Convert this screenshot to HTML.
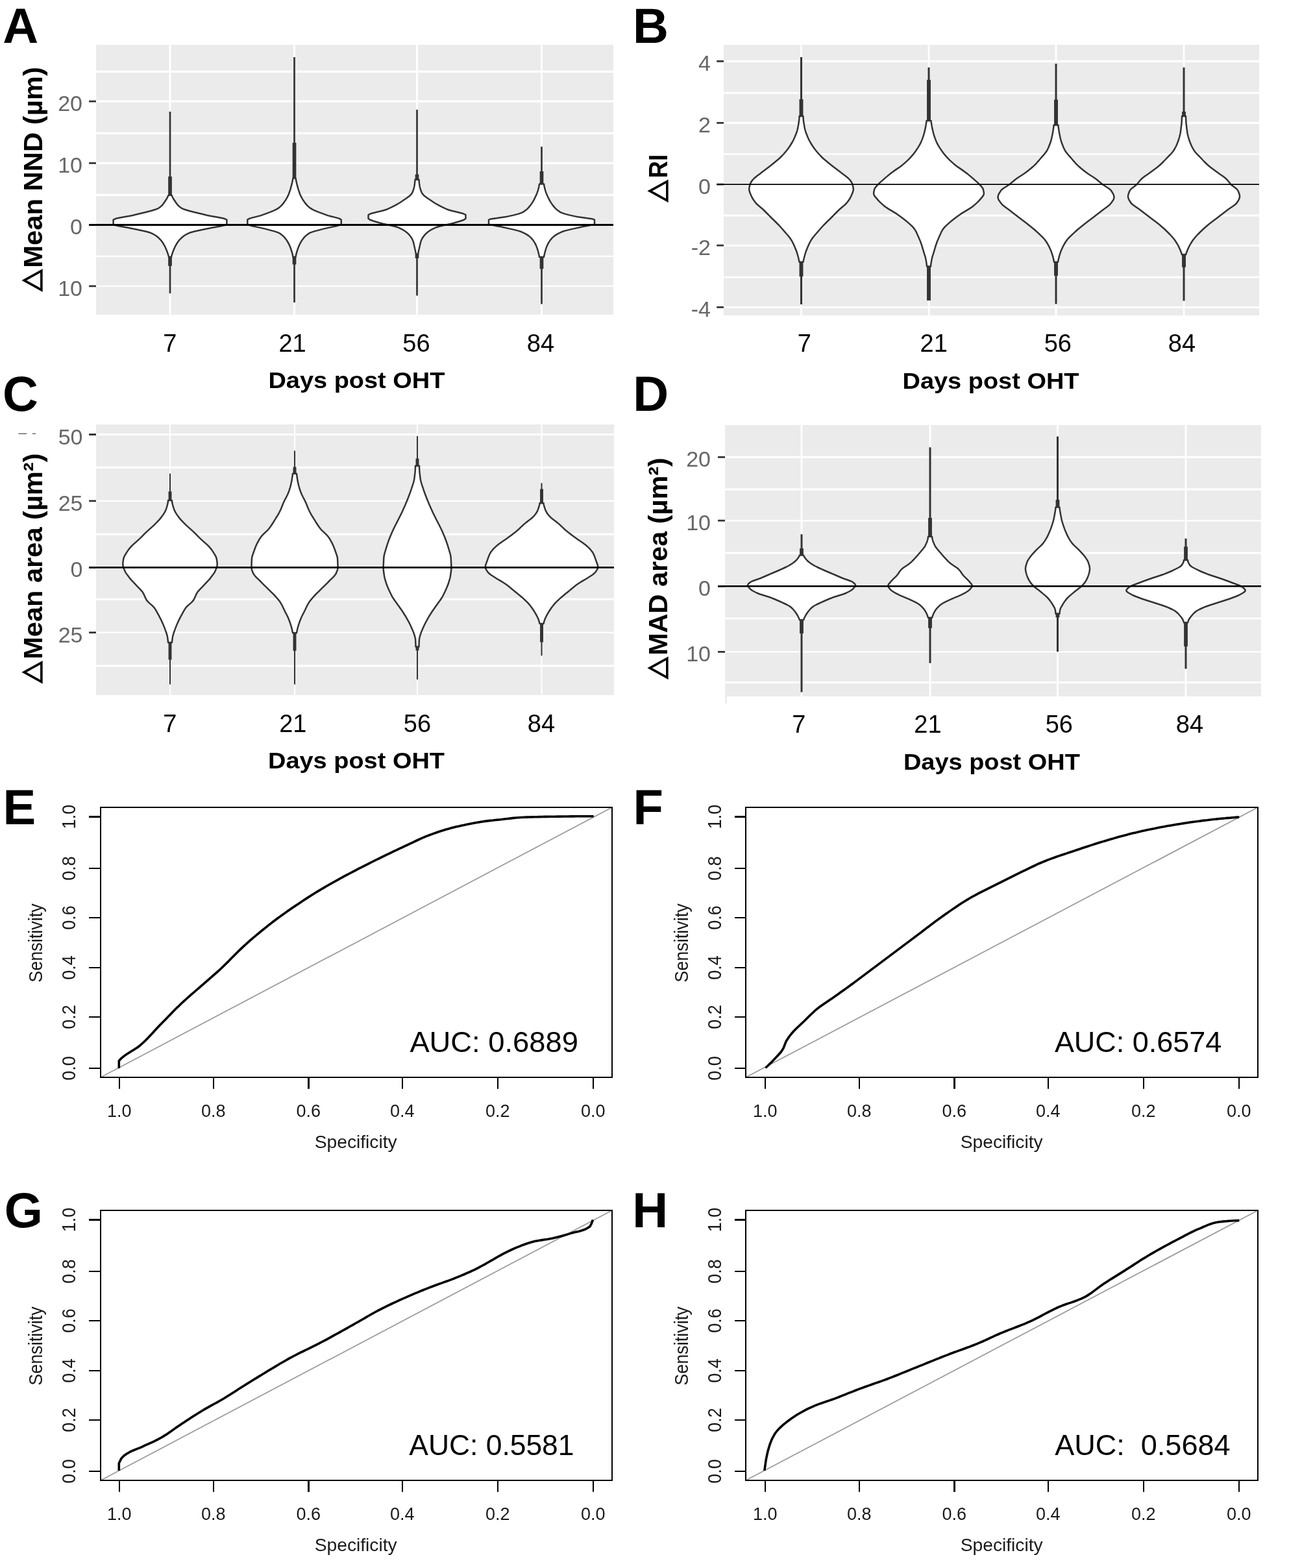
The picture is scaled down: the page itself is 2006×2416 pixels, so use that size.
<!DOCTYPE html>
<html lang="en"><head><meta charset="utf-8"><title>Figure</title>
<style>html,body{margin:0;padding:0;background:#fff}svg{display:block}text{font-family:"Liberation Sans","DejaVu Sans",sans-serif}</style></head><body>
<svg width="2006" height="2416" viewBox="0 0 2006 2416">
<rect width="2006" height="2416" fill="#fff"/>
<g id="panel-A">
<rect x="148" y="69" width="797" height="416" fill="#ebebeb"/>
<path d="M148 110.4H945" stroke="#fff" stroke-width="3.2" fill="none"/>
<path d="M148 156.2H945" stroke="#fff" stroke-width="3.2" fill="none"/>
<path d="M148 205.4H945" stroke="#fff" stroke-width="3.2" fill="none"/>
<path d="M148 251.4H945" stroke="#fff" stroke-width="3.2" fill="none"/>
<path d="M148 300.4H945" stroke="#fff" stroke-width="3.2" fill="none"/>
<path d="M148 346.4H945" stroke="#fff" stroke-width="3.0" fill="none"/>
<path d="M148 394.8H945" stroke="#fff" stroke-width="2.3" fill="none"/>
<path d="M148 440.8H945" stroke="#fff" stroke-width="2.3" fill="none"/>
<path d="M262 69V485M453.5 69V485M642.5 69V485M834.5 69V485" stroke="#fff" stroke-width="3.0" fill="none"/>
<path d="M137.1 156.2H148M137.1 251.4H148M137.1 346.4H148M137.1 440.8H148" stroke="#333" stroke-width="2.8" fill="none"/>
<text x="127" y="171.2" font-size="34" fill="#666" text-anchor="end">20</text>
<text x="127" y="266.4" font-size="34" fill="#666" text-anchor="end">10</text>
<text x="127" y="361.4" font-size="34" fill="#666" text-anchor="end">0</text>
<text x="127" y="455.8" font-size="34" fill="#666" text-anchor="end">10</text>
<path d="M262 172V300.8M262 396V452" stroke="#333" stroke-width="2.7" fill="none"/>
<path d="M262 272V301.8M262 395V409.7" stroke="#333" stroke-width="5.7" fill="none"/>
<path d="M259.5 300.8L258.6 302.8L257.6 304.8L256.5 306.8L255.2 308.8L253.9 310.8L252.5 312.8L251 314.8L249.2 316.8L247 318.8L245 320.3L244.2 320.8L239.6 322.8L233.1 324.8L225.4 326.8L217 328.8L208.6 330.8L205 331.7L199.9 332.8L188.4 334.8L178.4 336.8L174.6 338.6L174.6 338.8L174.6 340.8L174.6 342.8L174.6 344.8L174.6 345.5L176.6 346.8L185.3 348.8L196.8 350.8L205 352.4L206.7 352.8L216.1 354.8L225.3 356.8L232.2 358.8L233.4 359.3L236.3 360.8L239.6 362.8L242.4 364.8L244.7 366.8L246.7 368.8L248.3 370.7L248.4 370.8L249.9 372.8L251.3 374.8L252.5 376.8L253.6 378.8L254.6 380.8L255.2 382.2L255.5 382.8L256.3 384.8L257.1 386.8L257.9 388.8L258.6 390.8L259.2 392.8L259.7 394.8L260 396L264 396L264.3 394.8L264.8 392.8L265.4 390.8L266.1 388.8L266.9 386.8L267.7 384.8L268.5 382.8L268.8 382.2L269.4 380.8L270.4 378.8L271.5 376.8L272.7 374.8L274.1 372.8L275.6 370.8L275.7 370.7L277.3 368.8L279.3 366.8L281.6 364.8L284.4 362.8L287.7 360.8L290.6 359.3L291.8 358.8L298.7 356.8L307.9 354.8L317.3 352.8L319 352.4L327.2 350.8L338.7 348.8L347.4 346.8L349.4 345.5L349.4 344.8L349.4 342.8L349.4 340.8L349.4 338.8L349.4 338.6L345.6 336.8L335.6 334.8L324.1 332.8L319 331.7L315.4 330.8L307 328.8L298.6 326.8L290.9 324.8L284.4 322.8L279.8 320.8L279 320.3L277 318.8L274.8 316.8L273 314.8L271.5 312.8L270.1 310.8L268.8 308.8L267.5 306.8L266.4 304.8L265.4 302.8L264.5 300.8Z" fill="#fff" stroke="#333" stroke-width="2.5" stroke-linejoin="round"/>
<path d="M453.5 88V274.4M453.5 396V466" stroke="#333" stroke-width="2.7" fill="none"/>
<path d="M453.5 220V275.4M453.5 395V407.4" stroke="#333" stroke-width="5.7" fill="none"/>
<path d="M451.5 274.4L451.1 276.4L450.7 278.4L450.3 280.4L449.9 282.4L449.4 284.4L449 285.9L448.9 286.4L448.3 288.4L447.8 290.4L447.2 292.4L446.5 294.4L445.8 296.4L445.5 297.3L445.1 298.4L444.2 300.4L443.3 302.4L442.3 304.4L441.2 306.4L440 308.4L439.7 308.8L438.6 310.4L437.2 312.4L435.6 314.4L433.9 316.4L431.8 318.4L429.5 320.3L429.4 320.4L426.2 322.4L422.1 324.4L417.3 326.4L412 328.4L406.5 330.4L403 331.7L400.8 332.4L392.9 334.4L385.2 336.4L381.3 338.4L381.3 338.6L381.3 340.4L381.3 342.4L381.3 344.4L381.3 345.5L382.2 346.4L388.8 348.4L398.6 350.4L407.5 352.4L415.1 354.4L422.7 356.4L428.7 358.4L430.5 359.3L432.2 360.4L434.8 362.4L437 364.4L438.9 366.4L440.4 368.4L441.8 370.4L442 370.7L443.1 372.4L444.2 374.4L445.3 376.4L446.2 378.4L447 380.4L447.7 382.2L447.8 382.4L448.5 384.4L449.1 386.4L449.7 388.4L450.3 390.4L450.8 392.4L451.2 394.4L451.5 396L455.5 396L455.8 394.4L456.2 392.4L456.7 390.4L457.3 388.4L457.9 386.4L458.5 384.4L459.2 382.4L459.3 382.2L460 380.4L460.8 378.4L461.7 376.4L462.8 374.4L463.9 372.4L465 370.7L465.2 370.4L466.6 368.4L468.1 366.4L470 364.4L472.2 362.4L474.8 360.4L476.5 359.3L478.3 358.4L484.3 356.4L491.9 354.4L499.5 352.4L508.4 350.4L518.2 348.4L524.8 346.4L525.7 345.5L525.7 344.4L525.7 342.4L525.7 340.4L525.7 338.6L525.7 338.4L521.8 336.4L514.1 334.4L506.2 332.4L504 331.7L500.5 330.4L495 328.4L489.7 326.4L484.9 324.4L480.8 322.4L477.6 320.4L477.5 320.3L475.2 318.4L473.1 316.4L471.4 314.4L469.8 312.4L468.4 310.4L467.3 308.8L467 308.4L465.8 306.4L464.7 304.4L463.7 302.4L462.8 300.4L461.9 298.4L461.5 297.3L461.2 296.4L460.5 294.4L459.8 292.4L459.2 290.4L458.7 288.4L458.1 286.4L458 285.9L457.6 284.4L457.1 282.4L456.7 280.4L456.3 278.4L455.9 276.4L455.5 274.4Z" fill="#fff" stroke="#333" stroke-width="2.5" stroke-linejoin="round"/>
<path d="M642.5 169V276.7M642.5 391.4V455.6" stroke="#333" stroke-width="2.7" fill="none"/>
<path d="M642.5 268.7V277.7M642.5 390.4V398" stroke="#333" stroke-width="5.7" fill="none"/>
<path d="M639.5 276.7L639.4 278.7L639.2 280.7L639 282.7L638.7 284.7L638.5 285.9L638.4 286.7L638 288.7L637.5 290.7L636.9 292.7L636.1 294.7L635.3 296.7L635 297.3L634.1 298.7L632.3 300.7L629.9 302.7L627.2 304.7L624.3 306.7L621.3 308.7L621.2 308.8L618.4 310.7L615.3 312.7L612 314.7L608.4 316.7L604.5 318.7L600.3 320.7L596 322.6L595.8 322.7L589.1 324.7L580.6 326.7L572.8 328.7L568 330.7L567.5 331.5L567.5 332.7L567.5 334.7L567.5 336.5L567.5 336.7L570.3 338.7L576.1 340.7L582.9 342.7L584.5 343.2L590.1 344.7L599.3 346.7L607.9 348.7L612 350L613.7 350.7L618 352.7L621.8 354.7L624.9 356.7L627.4 358.7L628 359.3L629.4 360.7L631.2 362.7L632.8 364.7L634.1 366.7L635.2 368.7L636.1 370.7L636.8 372.7L637.3 374.7L637.8 376.7L638.2 378.7L638.7 380.7L639 382.2L639.1 382.7L639.6 384.7L640 386.7L640.4 388.7L640.9 390.7L641 391.4L644 391.4L644.1 390.7L644.6 388.7L645 386.7L645.4 384.7L645.9 382.7L646 382.2L646.3 380.7L646.8 378.7L647.2 376.7L647.7 374.7L648.2 372.7L648.9 370.7L649.8 368.7L650.9 366.7L652.2 364.7L653.8 362.7L655.6 360.7L657 359.3L657.6 358.7L660.1 356.7L663.2 354.7L667 352.7L671.3 350.7L673 350L677.1 348.7L685.7 346.7L694.9 344.7L700.5 343.2L702.1 342.7L708.9 340.7L714.7 338.7L717.5 336.7L717.5 336.5L717.5 334.7L717.5 332.7L717.5 331.5L717 330.7L712.2 328.7L704.4 326.7L695.9 324.7L689.2 322.7L689 322.6L684.7 320.7L680.5 318.7L676.6 316.7L673 314.7L669.7 312.7L666.6 310.7L663.8 308.8L663.7 308.7L660.7 306.7L657.8 304.7L655.1 302.7L652.7 300.7L650.9 298.7L650 297.3L649.7 296.7L648.9 294.7L648.1 292.7L647.5 290.7L647 288.7L646.6 286.7L646.5 285.9L646.3 284.7L646 282.7L645.8 280.7L645.6 278.7L645.5 276.7Z" fill="#fff" stroke="#333" stroke-width="2.5" stroke-linejoin="round"/>
<path d="M834.5 226V283.6M834.5 396V468.6" stroke="#333" stroke-width="2.7" fill="none"/>
<path d="M834.5 264V284.6M834.5 395V414.3" stroke="#333" stroke-width="5.7" fill="none"/>
<path d="M831 283.6L830.7 285.6L830.3 287.6L829.8 289.6L829.3 291.6L829 292.8L828.8 293.6L828.1 295.6L827.4 297.6L826.6 299.6L825.7 301.6L824.8 303.6L824.5 304.2L823.8 305.6L822.8 307.6L821.7 309.6L820.5 311.6L819.2 313.6L817.8 315.6L817.7 315.7L816.2 317.6L814.6 319.6L812.7 321.6L810.5 323.6L807.7 325.6L805.1 327.2L804.3 327.6L798.6 329.6L790.8 331.6L781.7 333.6L779.9 334L769.3 335.6L755.5 337.6L753 338.6L753 339.6L753 341.6L753 343.6L753 345L753.6 345.6L761.7 347.6L772.7 349.6L774.5 350L781.6 351.6L790.7 353.6L798.6 355.6L802.8 357L804.2 357.6L808.4 359.6L812 361.6L814.9 363.6L817.3 365.6L817.7 366L819.2 367.6L820.9 369.6L822.3 371.6L823.6 373.6L824.7 375.6L825.7 377.6L826.5 379.6L827.3 381.6L828 383.6L828.6 385.6L829.1 387.6L829.5 389L829.7 389.6L830.1 391.6L830.6 393.6L830.9 395.6L831 396L838 396L838.1 395.6L838.4 393.6L838.9 391.6L839.3 389.6L839.5 389L839.9 387.6L840.4 385.6L841 383.6L841.7 381.6L842.5 379.6L843.3 377.6L844.3 375.6L845.4 373.6L846.7 371.6L848.1 369.6L849.8 367.6L851.3 366L851.7 365.6L854.1 363.6L857 361.6L860.6 359.6L864.8 357.6L866.2 357L870.4 355.6L878.3 353.6L887.4 351.6L894.5 350L896.3 349.6L907.3 347.6L915.4 345.6L916 345L916 343.6L916 341.6L916 339.6L916 338.6L913.5 337.6L899.7 335.6L889.1 334L887.3 333.6L878.2 331.6L870.4 329.6L864.7 327.6L863.9 327.2L861.3 325.6L858.5 323.6L856.3 321.6L854.4 319.6L852.8 317.6L851.3 315.7L851.2 315.6L849.8 313.6L848.5 311.6L847.3 309.6L846.2 307.6L845.2 305.6L844.5 304.2L844.2 303.6L843.3 301.6L842.4 299.6L841.6 297.6L840.9 295.6L840.2 293.6L840 292.8L839.7 291.6L839.2 289.6L838.7 287.6L838.3 285.6L838 283.6Z" fill="#fff" stroke="#333" stroke-width="2.5" stroke-linejoin="round"/>
<path d="M137.1 346.5H945" stroke="#000" stroke-width="2.9" fill="none"/>
</g>
<g id="panel-B">
<rect x="1115" y="69" width="825" height="417" fill="#ebebeb"/>
<path d="M1115 94.4H1940" stroke="#fff" stroke-width="3.2" fill="none"/>
<path d="M1115 143.3H1940" stroke="#fff" stroke-width="3.1" fill="none"/>
<path d="M1115 189.4H1940" stroke="#fff" stroke-width="3.1" fill="none"/>
<path d="M1115 237.5H1940" stroke="#fff" stroke-width="2.3" fill="none"/>
<path d="M1115 284.2H1940" stroke="#fff" stroke-width="2.6" fill="none"/>
<path d="M1115 332.1H1940" stroke="#fff" stroke-width="3.0" fill="none"/>
<path d="M1115 378.2H1940" stroke="#fff" stroke-width="3.0" fill="none"/>
<path d="M1115 427.1H1940" stroke="#fff" stroke-width="2.6" fill="none"/>
<path d="M1115 473.4H1940" stroke="#fff" stroke-width="3.0" fill="none"/>
<path d="M1234.5 69V486M1431 69V486M1627 69V486M1824 69V486" stroke="#fff" stroke-width="2.8" fill="none"/>
<path d="M1104.2 94.4H1115M1104.2 189.4H1115M1104.2 284.2H1115M1104.2 378.2H1115M1104.2 473.4H1115" stroke="#333" stroke-width="2.8" fill="none"/>
<text x="1095" y="109.4" font-size="34" fill="#666" text-anchor="end">4</text>
<text x="1095" y="204.4" font-size="34" fill="#666" text-anchor="end">2</text>
<text x="1095" y="299.2" font-size="34" fill="#666" text-anchor="end">0</text>
<text x="1095" y="393.2" font-size="34" fill="#666" text-anchor="end">-2</text>
<text x="1095" y="488.4" font-size="34" fill="#666" text-anchor="end">-4</text>
<path d="M1234.5 88V179M1234.5 403.8V469" stroke="#333" stroke-width="3.0" fill="none"/>
<path d="M1234.5 153V180M1234.5 402.8V426" stroke="#333" stroke-width="5.9" fill="none"/>
<path d="M1231.5 179L1231.5 181L1231.3 183L1231.2 185L1230.9 187L1230.6 189L1230.3 191L1230 193L1229.6 195L1229.3 197L1229.2 197.3L1228.8 199L1228.3 201L1227.7 203L1227 205L1226.2 207L1225.4 209L1224.6 211L1223.7 213L1223.5 213.4L1222.8 215L1221.8 217L1220.7 219L1219.5 221L1218.3 223L1217 225L1215.6 227L1215.5 227.2L1214.2 229L1212.7 231L1211.1 233L1209.4 235L1207.7 237L1205.8 239L1204 240.9L1203.9 241L1201.9 243L1199.7 245L1197.3 247L1194.9 249L1192.5 251L1190 253L1187.9 254.7L1187.5 255L1185 257L1182.3 259L1179.7 261L1177 263L1174.4 265L1173 266.1L1171.9 267L1169.2 269L1166.5 271L1164 273L1161.7 275L1159.8 277L1159.3 277.6L1158.3 279L1157 281L1156 283L1155.5 284.5L1155.4 285L1154.8 287L1154.4 289L1154.2 291L1154.2 291.4L1154.3 293L1154.8 295L1155.5 297L1156.3 299L1157 300.6L1157.2 301L1158.1 303L1159.1 305L1160.3 307L1161.7 309L1163.1 311L1163.9 312L1164.7 313L1166.7 315L1168.9 317L1171.3 319L1173.7 321L1176 323L1176.5 323.5L1178 325L1180 327L1182 329L1184 331L1185.9 333L1187.9 335L1189.9 337L1192 339L1194.1 341L1196.1 343L1198.1 345L1199.5 346.4L1200.1 347L1201.9 349L1203.7 351L1205.5 353L1207.2 355L1208.9 357L1209.7 357.9L1210.6 359L1212.4 361L1214.1 363L1215.7 365L1217.3 367L1218.6 369L1218.9 369.4L1219.9 371L1221 373L1222 375L1222.9 377L1223.8 379L1224.6 380.8L1224.7 381L1225.5 383L1226.3 385L1227.1 387L1227.8 389L1228.4 391L1228.8 392.3L1229 393L1229.5 395L1230.1 397L1230.5 399L1231 401L1231.4 403L1231.5 403.8L1237.5 403.8L1237.6 403L1238 401L1238.5 399L1238.9 397L1239.5 395L1240 393L1240.2 392.3L1240.6 391L1241.2 389L1241.9 387L1242.7 385L1243.5 383L1244.3 381L1244.4 380.8L1245.2 379L1246.1 377L1247 375L1248 373L1249.1 371L1250.1 369.4L1250.4 369L1251.7 367L1253.3 365L1254.9 363L1256.6 361L1258.4 359L1259.3 357.9L1260.1 357L1261.8 355L1263.5 353L1265.3 351L1267.1 349L1268.9 347L1269.5 346.4L1270.9 345L1272.9 343L1274.9 341L1277 339L1279.1 337L1281.1 335L1283.1 333L1285 331L1287 329L1289 327L1291 325L1292.5 323.5L1293 323L1295.3 321L1297.7 319L1300.1 317L1302.3 315L1304.3 313L1305.1 312L1305.9 311L1307.3 309L1308.7 307L1309.9 305L1310.9 303L1311.8 301L1312 300.6L1312.7 299L1313.5 297L1314.2 295L1314.7 293L1314.8 291.4L1314.8 291L1314.6 289L1314.2 287L1313.6 285L1313.5 284.5L1313 283L1312 281L1310.7 279L1309.7 277.6L1309.2 277L1307.3 275L1305 273L1302.5 271L1299.8 269L1297.1 267L1296 266.1L1294.6 265L1292 263L1289.3 261L1286.7 259L1284 257L1281.5 255L1281.1 254.7L1279 253L1276.5 251L1274.1 249L1271.7 247L1269.3 245L1267.1 243L1265.1 241L1265 240.9L1263.2 239L1261.3 237L1259.6 235L1257.9 233L1256.3 231L1254.8 229L1253.5 227.2L1253.4 227L1252 225L1250.7 223L1249.5 221L1248.3 219L1247.2 217L1246.2 215L1245.5 213.4L1245.3 213L1244.4 211L1243.6 209L1242.8 207L1242 205L1241.3 203L1240.7 201L1240.2 199L1239.8 197.3L1239.7 197L1239.4 195L1239 193L1238.7 191L1238.4 189L1238.1 187L1237.8 185L1237.7 183L1237.5 181L1237.5 179Z" fill="#fff" stroke="#333" stroke-width="2.5" stroke-linejoin="round"/>
<path d="M1431 104V185.9M1431 410.6V463" stroke="#333" stroke-width="3.0" fill="none"/>
<path d="M1431 123V186.9M1431 409.6V463" stroke="#333" stroke-width="5.9" fill="none"/>
<path d="M1427.5 185.9L1427.3 187.9L1427 189.9L1426.7 191.9L1426.4 193.9L1426 195.9L1425.6 197.9L1425.1 199.9L1424.7 201.9L1424.2 203.9L1424.1 204.2L1423.7 205.9L1423.1 207.9L1422.5 209.9L1421.8 211.9L1421.1 213.9L1420.3 215.9L1419.5 217.9L1418.6 219.9L1418.4 220.3L1417.6 221.9L1416.5 223.9L1415.3 225.9L1414.1 227.9L1412.7 229.9L1411.5 231.7L1411.4 231.9L1409.9 233.9L1408.4 235.9L1406.9 237.9L1405.2 239.9L1403.5 241.9L1402.3 243.2L1401.6 243.9L1399.7 245.9L1397.6 247.9L1395.4 249.9L1393.1 251.9L1390.7 253.9L1389.7 254.7L1388.2 255.9L1385.4 257.9L1382.5 259.9L1379.6 261.9L1376.7 263.9L1374 265.9L1373.7 266.1L1371.4 267.9L1369 269.9L1366.6 271.9L1364.2 273.9L1361.9 275.9L1360 277.6L1359.7 277.9L1357.4 279.9L1355.2 281.9L1353.2 283.9L1352.6 284.5L1351.3 285.9L1349.5 287.9L1348 289.9L1347.3 291.4L1347.2 291.9L1346.7 293.9L1346.3 295.9L1346.1 297.9L1346.1 298.3L1346.4 299.9L1347.4 301.9L1349 303.9L1350.7 305.9L1352 307.4L1352.4 307.9L1354.2 309.9L1356.2 311.9L1358.4 313.9L1360.7 315.9L1363.2 317.9L1364.5 318.9L1365.9 319.9L1368.9 321.9L1372.2 323.9L1375.6 325.9L1378.9 327.9L1382.1 329.9L1382.8 330.4L1384.9 331.9L1387.7 333.9L1390.4 335.9L1393 337.9L1395.5 339.9L1397.7 341.8L1397.8 341.9L1400.1 343.9L1402.3 345.9L1404.5 347.9L1406.5 349.9L1408.2 351.9L1409.2 353.3L1409.6 353.9L1410.8 355.9L1411.9 357.9L1412.8 359.9L1413.7 361.9L1414.6 363.9L1415 364.8L1415.5 365.9L1416.3 367.9L1417.2 369.9L1418 371.9L1418.7 373.9L1419.4 375.9L1419.5 376.1L1420.1 377.9L1420.7 379.9L1421.3 381.9L1421.9 383.9L1422.5 385.9L1423 387.7L1423.1 387.9L1423.7 389.9L1424.3 391.9L1425 393.9L1425.6 395.9L1426.1 397.9L1426.4 399.2L1426.5 399.9L1426.9 401.9L1427.2 403.9L1427.5 405.9L1427.8 407.9L1428 409.9L1428 410.6L1434 410.6L1434 409.9L1434.2 407.9L1434.5 405.9L1434.8 403.9L1435.1 401.9L1435.5 399.9L1435.6 399.2L1435.9 397.9L1436.4 395.9L1437 393.9L1437.7 391.9L1438.3 389.9L1438.9 387.9L1439 387.7L1439.5 385.9L1440.1 383.9L1440.7 381.9L1441.3 379.9L1441.9 377.9L1442.5 376.1L1442.6 375.9L1443.3 373.9L1444 371.9L1444.8 369.9L1445.7 367.9L1446.5 365.9L1447 364.8L1447.4 363.9L1448.3 361.9L1449.2 359.9L1450.1 357.9L1451.2 355.9L1452.4 353.9L1452.8 353.3L1453.8 351.9L1455.5 349.9L1457.5 347.9L1459.7 345.9L1461.9 343.9L1464.2 341.9L1464.3 341.8L1466.5 339.9L1469 337.9L1471.6 335.9L1474.3 333.9L1477.1 331.9L1479.2 330.4L1479.9 329.9L1483.1 327.9L1486.4 325.9L1489.8 323.9L1493.1 321.9L1496.1 319.9L1497.5 318.9L1498.8 317.9L1501.3 315.9L1503.6 313.9L1505.8 311.9L1507.8 309.9L1509.6 307.9L1510 307.4L1511.3 305.9L1513 303.9L1514.6 301.9L1515.6 299.9L1515.9 298.3L1515.9 297.9L1515.7 295.9L1515.3 293.9L1514.8 291.9L1514.7 291.4L1514 289.9L1512.5 287.9L1510.7 285.9L1509.4 284.5L1508.8 283.9L1506.8 281.9L1504.6 279.9L1502.3 277.9L1502 277.6L1500.1 275.9L1497.8 273.9L1495.4 271.9L1493 269.9L1490.6 267.9L1488.3 266.1L1488 265.9L1485.3 263.9L1482.4 261.9L1479.5 259.9L1476.6 257.9L1473.8 255.9L1472.3 254.7L1471.3 253.9L1468.9 251.9L1466.6 249.9L1464.4 247.9L1462.3 245.9L1460.4 243.9L1459.7 243.2L1458.5 241.9L1456.8 239.9L1455.1 237.9L1453.6 235.9L1452.1 233.9L1450.6 231.9L1450.5 231.7L1449.3 229.9L1447.9 227.9L1446.7 225.9L1445.5 223.9L1444.4 221.9L1443.6 220.3L1443.4 219.9L1442.5 217.9L1441.7 215.9L1440.9 213.9L1440.2 211.9L1439.5 209.9L1438.9 207.9L1438.3 205.9L1437.9 204.2L1437.8 203.9L1437.3 201.9L1436.9 199.9L1436.4 197.9L1436 195.9L1435.6 193.9L1435.3 191.9L1435 189.9L1434.7 187.9L1434.5 185.9Z" fill="#fff" stroke="#333" stroke-width="2.5" stroke-linejoin="round"/>
<path d="M1627 98V192.8M1627 403.8V468.6" stroke="#333" stroke-width="3.0" fill="none"/>
<path d="M1627 153.4V193.8M1627 402.8V424.7" stroke="#333" stroke-width="5.9" fill="none"/>
<path d="M1623.5 192.8L1623.4 194.8L1623.2 196.8L1622.9 198.8L1622.6 200.8L1622.3 202.8L1621.9 204.8L1621.6 206.8L1621.1 208.8L1620.7 210.8L1620.2 212.8L1620.1 213.4L1619.8 214.8L1619.2 216.8L1618.6 218.8L1618 220.8L1617.2 222.8L1616.4 224.8L1615.6 226.8L1614.7 228.8L1613.7 230.8L1613.2 231.7L1612.6 232.8L1611.2 234.8L1609.6 236.8L1607.9 238.8L1606.1 240.8L1604.3 242.8L1604 243.2L1602.7 244.8L1601 246.8L1599.2 248.8L1597.5 250.8L1595.6 252.8L1593.7 254.7L1593.6 254.8L1591.5 256.8L1589.2 258.8L1586.8 260.8L1584.3 262.8L1581.7 264.8L1580 266.1L1579 266.8L1576.1 268.8L1573 270.8L1569.8 272.8L1566.9 274.8L1566.2 275.3L1564.2 276.8L1561.8 278.8L1559.4 280.8L1557 282.8L1554.8 284.5L1554.4 284.8L1551.4 286.8L1548.2 288.8L1545.2 290.8L1542.8 292.8L1542.1 293.7L1541.4 294.8L1540.1 296.8L1538.9 298.8L1538.1 300.8L1537.6 302.8L1537.5 304L1537.6 304.8L1538.1 306.8L1539.2 308.8L1540.6 310.8L1542.1 312.8L1543.3 314.3L1543.7 314.8L1545.8 316.8L1548.4 318.8L1551.1 320.8L1553.9 322.8L1554.8 323.5L1556.5 324.8L1559 326.8L1561.6 328.8L1564.2 330.8L1566.8 332.8L1569.4 334.8L1569.7 335L1572.1 336.8L1574.7 338.8L1577.4 340.8L1580 342.8L1582.6 344.8L1584.6 346.4L1585.1 346.8L1587.6 348.8L1590 350.8L1592.5 352.8L1594.8 354.8L1597.1 356.8L1598.3 357.9L1599.3 358.8L1601.5 360.8L1603.6 362.8L1605.7 364.8L1607.6 366.8L1609.3 368.8L1609.8 369.4L1610.8 370.8L1612.2 372.8L1613.5 374.8L1614.6 376.8L1615.7 378.8L1616.7 380.8L1617.6 382.8L1618.5 384.8L1619.4 386.8L1620.1 388.8L1620.8 390.8L1621.3 392.3L1621.4 392.8L1622 394.8L1622.5 396.8L1623 398.8L1623.5 400.8L1623.8 402.8L1624 403.8L1630 403.8L1630.2 402.8L1630.5 400.8L1631 398.8L1631.5 396.8L1632 394.8L1632.6 392.8L1632.7 392.3L1633.2 390.8L1633.9 388.8L1634.6 386.8L1635.5 384.8L1636.4 382.8L1637.3 380.8L1638.3 378.8L1639.4 376.8L1640.5 374.8L1641.8 372.8L1643.2 370.8L1644.2 369.4L1644.7 368.8L1646.4 366.8L1648.3 364.8L1650.4 362.8L1652.5 360.8L1654.7 358.8L1655.7 357.9L1656.9 356.8L1659.2 354.8L1661.5 352.8L1664 350.8L1666.4 348.8L1668.9 346.8L1669.4 346.4L1671.4 344.8L1674 342.8L1676.6 340.8L1679.3 338.8L1681.9 336.8L1684.3 335L1684.6 334.8L1687.2 332.8L1689.8 330.8L1692.4 328.8L1695 326.8L1697.5 324.8L1699.2 323.5L1700.1 322.8L1702.9 320.8L1705.6 318.8L1708.2 316.8L1710.3 314.8L1710.7 314.3L1711.9 312.8L1713.4 310.8L1714.8 308.8L1715.9 306.8L1716.4 304.8L1716.5 304L1716.4 302.8L1715.9 300.8L1715.1 298.8L1713.9 296.8L1712.6 294.8L1711.9 293.7L1711.2 292.8L1708.8 290.8L1705.8 288.8L1702.6 286.8L1699.6 284.8L1699.2 284.5L1697 282.8L1694.6 280.8L1692.2 278.8L1689.8 276.8L1687.8 275.3L1687.1 274.8L1684.2 272.8L1681 270.8L1677.9 268.8L1675 266.8L1674 266.1L1672.3 264.8L1669.7 262.8L1667.2 260.8L1664.8 258.8L1662.5 256.8L1660.4 254.8L1660.3 254.7L1658.4 252.8L1656.5 250.8L1654.8 248.8L1653 246.8L1651.3 244.8L1650 243.2L1649.7 242.8L1647.9 240.8L1646.1 238.8L1644.4 236.8L1642.8 234.8L1641.4 232.8L1640.8 231.7L1640.3 230.8L1639.3 228.8L1638.4 226.8L1637.6 224.8L1636.8 222.8L1636 220.8L1635.4 218.8L1634.8 216.8L1634.2 214.8L1633.9 213.4L1633.8 212.8L1633.3 210.8L1632.9 208.8L1632.4 206.8L1632.1 204.8L1631.7 202.8L1631.4 200.8L1631.1 198.8L1630.8 196.8L1630.6 194.8L1630.5 192.8Z" fill="#fff" stroke="#333" stroke-width="2.5" stroke-linejoin="round"/>
<path d="M1824 104V179M1824 392.3V463.4" stroke="#333" stroke-width="3.0" fill="none"/>
<path d="M1824 172V180M1824 391.3V411.8" stroke="#333" stroke-width="5.9" fill="none"/>
<path d="M1821 179L1821 181L1820.9 183L1820.8 185L1820.7 187L1820.5 189L1820.4 191L1820.2 193L1819.9 195L1819.7 197L1819.4 199L1819.2 201L1818.9 203L1818.7 204.2L1818.6 205L1818.2 207L1817.7 209L1817.2 211L1816.6 213L1816 215L1815.3 217L1814.6 219L1814.1 220.3L1813.8 221L1813 223L1812.1 225L1811.1 227L1810 229L1808.8 231L1808.4 231.7L1807.5 233L1805.9 235L1804.1 237L1802.2 239L1800.2 241L1798.3 243L1798.1 243.2L1796.4 245L1794.5 247L1792.6 249L1790.6 251L1788.5 253L1786.6 254.7L1786.3 255L1783.9 257L1781.3 259L1778.6 261L1775.9 263L1773.2 265L1771.7 266.1L1770.5 267L1767.6 269L1764.6 271L1761.9 273L1759.4 275L1759.1 275.3L1757.4 277L1755.7 279L1754.1 281L1752.5 283L1751.1 284.5L1750.6 285L1748.1 287L1745.4 289L1742.9 291L1741.1 293L1740.7 293.7L1740.1 295L1739.3 297L1738.6 299L1738.1 301L1738 302.8L1738 303L1738.3 305L1739.1 307L1740.1 309L1741.4 311L1742 312L1742.7 313L1744.8 315L1747.4 317L1750.3 319L1753.3 321L1756.1 323L1756.8 323.5L1758.7 325L1761.3 327L1763.9 329L1766.5 331L1769.1 333L1771.7 335L1774.3 337L1777 339L1779.7 341L1782.3 343L1784.9 345L1786.6 346.4L1787.3 347L1789.6 349L1791.9 351L1794.1 353L1796.2 355L1798.3 357L1799.2 357.9L1800.3 359L1802.3 361L1804.2 363L1806 365L1807.7 367L1809.3 369L1809.6 369.4L1810.7 371L1812 373L1813.3 375L1814.4 377L1815.5 379L1816.4 380.8L1816.5 381L1817.4 383L1818.3 385L1819.1 387L1819.9 389L1820.6 391L1821 392.3L1827 392.3L1827.4 391L1828.1 389L1828.9 387L1829.7 385L1830.6 383L1831.5 381L1831.6 380.8L1832.5 379L1833.6 377L1834.7 375L1836 373L1837.3 371L1838.4 369.4L1838.7 369L1840.3 367L1842 365L1843.8 363L1845.7 361L1847.7 359L1848.8 357.9L1849.7 357L1851.8 355L1853.9 353L1856.1 351L1858.4 349L1860.7 347L1861.4 346.4L1863.1 345L1865.7 343L1868.3 341L1871 339L1873.7 337L1876.3 335L1878.9 333L1881.5 331L1884.1 329L1886.7 327L1889.3 325L1891.2 323.5L1891.9 323L1894.7 321L1897.7 319L1900.6 317L1903.2 315L1905.3 313L1906 312L1906.6 311L1907.9 309L1908.9 307L1909.7 305L1910 303L1910 302.8L1909.9 301L1909.4 299L1908.7 297L1907.9 295L1907.3 293.7L1906.9 293L1905.1 291L1902.6 289L1899.9 287L1897.4 285L1896.9 284.5L1895.5 283L1893.9 281L1892.3 279L1890.6 277L1888.9 275.3L1888.6 275L1886.1 273L1883.4 271L1880.4 269L1877.5 267L1876.3 266.1L1874.8 265L1872.1 263L1869.4 261L1866.7 259L1864.1 257L1861.7 255L1861.4 254.7L1859.5 253L1857.4 251L1855.4 249L1853.5 247L1851.6 245L1849.9 243.2L1849.7 243L1847.8 241L1845.8 239L1843.9 237L1842.1 235L1840.5 233L1839.6 231.7L1839.2 231L1838 229L1836.9 227L1835.9 225L1835 223L1834.2 221L1833.9 220.3L1833.4 219L1832.7 217L1832 215L1831.4 213L1830.8 211L1830.3 209L1829.8 207L1829.4 205L1829.3 204.2L1829.1 203L1828.8 201L1828.6 199L1828.3 197L1828.1 195L1827.8 193L1827.6 191L1827.5 189L1827.3 187L1827.2 185L1827.1 183L1827 181L1827 179Z" fill="#fff" stroke="#333" stroke-width="2.5" stroke-linejoin="round"/>
<path d="M1104.2 284.2H1940" stroke="#000" stroke-width="1.7" fill="none"/>
</g>
<g id="panel-C">
<rect x="148" y="654" width="798" height="417" fill="#ebebeb"/>
<path d="M148 669.5H946" stroke="#fff" stroke-width="3.1" fill="none"/>
<path d="M148 720.3H946" stroke="#fff" stroke-width="3.1" fill="none"/>
<path d="M148 771.9H946" stroke="#fff" stroke-width="2.3" fill="none"/>
<path d="M148 823.3H946" stroke="#fff" stroke-width="2.9" fill="none"/>
<path d="M148 874.3H946" stroke="#fff" stroke-width="2.9" fill="none"/>
<path d="M148 923.3H946" stroke="#fff" stroke-width="2.9" fill="none"/>
<path d="M148 974.6H946" stroke="#fff" stroke-width="2.4" fill="none"/>
<path d="M148 1026H946" stroke="#fff" stroke-width="3.1" fill="none"/>
<path d="M262 654V1071M454 654V1071M643 654V1071M834.5 654V1071" stroke="#fff" stroke-width="2.0" fill="none"/>
<path d="M137.1 669.5H148M137.1 771.9H148M137.1 874.3H148M137.1 974.6H148" stroke="#333" stroke-width="2.8" fill="none"/>
<text x="127.5" y="684.5" font-size="34" fill="#666" text-anchor="end">50</text>
<text x="127.5" y="786.9" font-size="34" fill="#666" text-anchor="end">25</text>
<text x="127.5" y="889.3" font-size="34" fill="#666" text-anchor="end">0</text>
<text x="127.5" y="989.6" font-size="34" fill="#666" text-anchor="end">25</text>
<path d="M262 729.8V771.1M262 990V1054.4" stroke="#333" stroke-width="2.0" fill="none"/>
<path d="M262 757.3V772.1M262 989V1016.5" stroke="#333" stroke-width="4.9" fill="none"/>
<path d="M259 771.1L258.9 773.1L258.6 775.1L258.1 777.1L257.6 779.1L257 781.1L256.4 783.1L255.8 784.9L255.7 785.1L254.9 787.1L253.8 789.1L252.6 791.1L251.3 793.1L249.9 795.1L249 796.3L248.4 797.1L246.8 799.1L245.1 801.1L243.2 803.1L241.3 805.1L239.3 807.1L238.6 807.8L237.3 809.1L235.1 811.1L232.9 813.1L230.6 815.1L228.4 817.1L226.2 819.1L226 819.3L224.1 821.1L222.1 823.1L220.1 825.1L218.2 827.1L216.2 829.1L214.5 830.7L214.1 831.1L211.9 833.1L209.6 835.1L207.3 837.1L205.1 839.1L203 841.1L202 842.2L201.2 843.1L199.5 845.1L197.9 847.1L196.5 849.1L195.2 851.1L195 851.4L194 853.1L192.7 855.1L191.7 857.1L190.8 859.1L190.4 860.6L190.3 861.1L189.9 863.1L189.6 865.1L189.4 867.1L189.3 869.1L189.3 869.7L189.4 871.1L189.8 873.1L190.5 875.1L191.3 877.1L192 878.9L192.1 879.1L193 881.1L194.2 883.1L195.6 885.1L197.1 887.1L198.6 889.1L199.6 890.4L200.1 891.1L201.8 893.1L203.7 895.1L205.6 897.1L207.5 899.1L209.4 901.1L210 901.8L211.2 903.1L213.1 905.1L215.1 907.1L217 909.1L218.7 911.1L220.2 913.1L220.3 913.3L221.3 915.1L222.3 917.1L223.1 919.1L224 921.1L225 923.1L226 924.8L226.2 925.1L227.9 927.1L230 929.1L232.3 931.1L234.6 933.1L236.6 935.1L237.5 936.2L238.2 937.1L239.5 939.1L240.7 941.1L241.8 943.1L242.9 945.1L244 947.1L244.3 947.7L245.1 949.1L246.1 951.1L247.2 953.1L248.2 955.1L249.1 957.1L250.1 959.1L250.1 959.2L250.9 961.1L251.8 963.1L252.6 965.1L253.4 967.1L254.2 969.1L254.7 970.6L254.9 971.1L255.6 973.1L256.3 975.1L256.9 977.1L257.5 979.1L257.9 981.1L258.1 982.1L258.3 983.1L258.5 985.1L258.8 987.1L259 989.1L259 990L265 990L265 989.1L265.2 987.1L265.5 985.1L265.7 983.1L265.9 982.1L266.1 981.1L266.5 979.1L267.1 977.1L267.7 975.1L268.4 973.1L269.1 971.1L269.3 970.6L269.8 969.1L270.6 967.1L271.4 965.1L272.2 963.1L273.1 961.1L273.9 959.2L273.9 959.1L274.9 957.1L275.8 955.1L276.8 953.1L277.9 951.1L278.9 949.1L279.7 947.7L280 947.1L281.1 945.1L282.2 943.1L283.3 941.1L284.5 939.1L285.8 937.1L286.5 936.2L287.4 935.1L289.4 933.1L291.7 931.1L294 929.1L296.1 927.1L297.8 925.1L298 924.8L299 923.1L300 921.1L300.9 919.1L301.7 917.1L302.7 915.1L303.7 913.3L303.8 913.1L305.3 911.1L307 909.1L308.9 907.1L310.9 905.1L312.8 903.1L314 901.8L314.6 901.1L316.5 899.1L318.4 897.1L320.3 895.1L322.2 893.1L323.9 891.1L324.4 890.4L325.4 889.1L326.9 887.1L328.4 885.1L329.8 883.1L331 881.1L331.9 879.1L332 878.9L332.7 877.1L333.5 875.1L334.2 873.1L334.6 871.1L334.7 869.7L334.7 869.1L334.6 867.1L334.4 865.1L334.1 863.1L333.7 861.1L333.6 860.6L333.2 859.1L332.3 857.1L331.3 855.1L330 853.1L329 851.4L328.8 851.1L327.5 849.1L326.1 847.1L324.5 845.1L322.8 843.1L322 842.2L321 841.1L318.9 839.1L316.7 837.1L314.4 835.1L312.1 833.1L309.9 831.1L309.5 830.7L307.8 829.1L305.8 827.1L303.9 825.1L301.9 823.1L299.9 821.1L298 819.3L297.8 819.1L295.6 817.1L293.4 815.1L291.1 813.1L288.9 811.1L286.7 809.1L285.4 807.8L284.7 807.1L282.7 805.1L280.8 803.1L278.9 801.1L277.2 799.1L275.6 797.1L275 796.3L274.1 795.1L272.7 793.1L271.4 791.1L270.2 789.1L269.1 787.1L268.3 785.1L268.2 784.9L267.6 783.1L267 781.1L266.4 779.1L265.9 777.1L265.4 775.1L265.1 773.1L265 771.1Z" fill="#fff" stroke="#333" stroke-width="2.5" stroke-linejoin="round"/>
<path d="M454 694.6V729.8M454 975.2V1054.4" stroke="#333" stroke-width="2.0" fill="none"/>
<path d="M454 719.5V730.8M454 974.2V1002.8" stroke="#333" stroke-width="4.9" fill="none"/>
<path d="M451 729.8L450.8 731.8L450.5 733.8L450.2 735.8L449.9 737.8L449.6 739.8L449.2 741.8L448.8 743.8L448.3 745.8L448.3 745.9L447.9 747.8L447.3 749.8L446.8 751.8L446.1 753.8L445.5 755.8L444.8 757.8L444.1 759.6L444 759.8L443.2 761.8L442.2 763.8L441.2 765.8L440.1 767.8L439.1 769.8L438.1 771.8L437.3 773.4L437.1 773.8L436.3 775.8L435.4 777.8L434.7 779.8L433.9 781.8L433 783.8L432.2 785.8L431.5 787.2L431.2 787.8L430.2 789.8L429 791.8L427.9 793.8L426.7 795.8L425.4 797.8L424.2 799.8L423.5 800.9L422.9 801.8L421.7 803.8L420.5 805.8L419.2 807.8L417.9 809.8L416.5 811.8L415 813.8L414.3 814.7L413.4 815.8L411.4 817.8L409.2 819.8L407.1 821.8L405 823.8L403.2 825.8L403 826.1L401.8 827.8L400.4 829.8L399.1 831.8L398 833.8L396.9 835.8L396 837.6L395.9 837.8L395 839.8L394.1 841.8L393.3 843.8L392.6 845.8L391.8 847.8L391.4 849.1L391.2 849.8L390.4 851.8L389.7 853.8L389 855.8L388.4 857.8L388.1 859.8L388 860.6L387.9 861.8L387.8 863.8L387.7 865.8L387.6 867.8L387.6 869.8L387.5 871.8L387.5 873.8L387.5 874.3L387.6 875.8L388 877.8L388.7 879.8L389.5 881.8L390.2 883.5L390.3 883.8L391.6 885.8L393.3 887.8L395.2 889.8L397.3 891.8L399.4 893.8L400.6 895L401.4 895.8L403.3 897.8L405.3 899.8L407.3 901.8L409.4 903.8L411.4 905.8L412 906.4L413.4 907.8L415.5 909.8L417.5 911.8L419.6 913.8L421.6 915.8L423.4 917.8L423.5 917.9L425.2 919.8L426.9 921.8L428.6 923.8L430.2 925.8L431.7 927.8L432.7 929.4L432.9 929.8L434.1 931.8L435.1 933.8L436 935.8L437 937.8L437.9 939.8L438.4 940.8L438.9 941.8L439.9 943.8L441 945.8L442 947.8L443 949.8L443.9 951.8L444.1 952.3L444.7 953.8L445.5 955.8L446.3 957.8L447 959.8L447.7 961.8L448.3 963.8L448.9 965.8L449.4 967.8L449.9 969.8L450.3 971.8L450.7 973.8L451 975.2L457 975.2L457.3 973.8L457.7 971.8L458.1 969.8L458.6 967.8L459.1 965.8L459.7 963.8L460.3 961.8L461 959.8L461.7 957.8L462.5 955.8L463.3 953.8L463.9 952.3L464.1 951.8L465 949.8L466 947.8L467 945.8L468.1 943.8L469.1 941.8L469.6 940.8L470.1 939.8L471 937.8L472 935.8L472.9 933.8L473.9 931.8L475.1 929.8L475.3 929.4L476.3 927.8L477.8 925.8L479.4 923.8L481.1 921.8L482.8 919.8L484.5 917.9L484.6 917.8L486.4 915.8L488.4 913.8L490.5 911.8L492.5 909.8L494.6 907.8L496 906.4L496.6 905.8L498.6 903.8L500.7 901.8L502.7 899.8L504.7 897.8L506.6 895.8L507.4 895L508.6 893.8L510.7 891.8L512.8 889.8L514.7 887.8L516.4 885.8L517.7 883.8L517.8 883.5L518.5 881.8L519.3 879.8L520 877.8L520.4 875.8L520.5 874.3L520.5 873.8L520.5 871.8L520.4 869.8L520.4 867.8L520.3 865.8L520.2 863.8L520.1 861.8L520 860.6L519.9 859.8L519.6 857.8L519 855.8L518.3 853.8L517.6 851.8L516.8 849.8L516.6 849.1L516.2 847.8L515.4 845.8L514.7 843.8L513.9 841.8L513 839.8L512.1 837.8L512 837.6L511.1 835.8L510 833.8L508.9 831.8L507.6 829.8L506.2 827.8L505 826.1L504.8 825.8L503 823.8L500.9 821.8L498.8 819.8L496.6 817.8L494.6 815.8L493.7 814.7L493 813.8L491.5 811.8L490.1 809.8L488.8 807.8L487.5 805.8L486.3 803.8L485.1 801.8L484.5 800.9L483.8 799.8L482.6 797.8L481.3 795.8L480.1 793.8L479 791.8L477.8 789.8L476.8 787.8L476.5 787.2L475.8 785.8L475 783.8L474.1 781.8L473.3 779.8L472.6 777.8L471.7 775.8L470.9 773.8L470.7 773.4L469.9 771.8L468.9 769.8L467.9 767.8L466.8 765.8L465.8 763.8L464.8 761.8L464 759.8L463.9 759.6L463.2 757.8L462.5 755.8L461.9 753.8L461.2 751.8L460.7 749.8L460.1 747.8L459.7 745.9L459.7 745.8L459.2 743.8L458.8 741.8L458.4 739.8L458.1 737.8L457.8 735.8L457.5 733.8L457.2 731.8L457 729.8Z" fill="#fff" stroke="#333" stroke-width="2.5" stroke-linejoin="round"/>
<path d="M643 672V717.8M643 996.5V1047" stroke="#333" stroke-width="2.0" fill="none"/>
<path d="M643 706.4V718.8M643 995.5V1002.2" stroke="#333" stroke-width="4.9" fill="none"/>
<path d="M640 717.8L640 719.8L639.9 721.8L639.8 723.8L639.7 725.8L639.5 727.8L639.3 729.8L639.1 731.8L638.8 733.8L638.6 735.8L638.4 737.3L638.3 737.8L638 739.8L637.5 741.8L637 743.8L636.3 745.8L635.7 747.8L635 749.8L634.3 751.8L633.8 753.4L633.7 753.8L633 755.8L632.3 757.8L631.6 759.8L630.9 761.8L630.1 763.8L629.3 765.8L628.6 767.8L627.8 769.8L627 771.7L627 771.8L626.1 773.8L625.3 775.8L624.5 777.8L623.6 779.8L622.7 781.8L621.8 783.8L620.9 785.8L620 787.8L619.1 789.8L618.1 791.8L617.1 793.8L616.1 795.8L615.1 797.8L614.1 799.8L613.1 801.8L612 803.8L612 803.9L611 805.8L610 807.8L609 809.8L608 811.8L607 813.8L606 815.8L605.2 817.6L605.1 817.8L604.2 819.8L603.3 821.8L602.5 823.8L601.6 825.8L600.8 827.8L600 829.8L599.4 831.4L599.3 831.8L598.5 833.8L597.8 835.8L597.1 837.8L596.4 839.8L595.8 841.8L595.2 843.8L594.8 845.1L594.6 845.8L594 847.8L593.4 849.8L592.8 851.8L592.3 853.8L591.8 855.8L591.5 857.8L591.4 858.9L591.3 859.8L591.2 861.8L591.1 863.8L591 865.8L590.9 867.8L590.8 869.8L590.7 871.8L590.7 873.8L590.7 875L590.7 875.8L590.8 877.8L591 879.8L591.2 881.8L591.5 883.8L591.8 885.8L591.9 886.4L592.1 887.8L592.5 889.8L593 891.8L593.6 893.8L594.2 895.8L594.8 897.8L594.8 897.9L595.4 899.8L596.2 901.8L597 903.8L597.8 905.8L598.7 907.8L599.4 909.4L599.6 909.8L600.5 911.8L601.5 913.8L602.5 915.8L603.5 917.8L604.6 919.8L605.2 920.8L605.8 921.8L607.1 923.8L608.5 925.8L610 927.8L611.4 929.8L612.8 931.8L613.2 932.3L614.3 933.8L615.7 935.8L617.1 937.8L618.5 939.8L619.9 941.8L621.2 943.8L622.5 945.8L623.7 947.8L625 949.8L626.2 951.8L627.3 953.8L628.1 955.2L628.4 955.8L629.5 957.8L630.5 959.8L631.5 961.8L632.5 963.8L633.4 965.8L633.8 966.7L634.3 967.8L635.2 969.8L636 971.8L636.9 973.8L637.6 975.8L638.3 977.8L638.4 978.2L638.9 979.8L639.4 981.8L639.9 983.8L640 985L640.1 985.8L640.2 987.8L640.3 989.8L640.4 991.8L640.5 993.8L640.5 995.8L640.5 996.5L645.5 996.5L645.5 995.8L645.5 993.8L645.6 991.8L645.7 989.8L645.8 987.8L645.9 985.8L646 985L646.1 983.8L646.6 981.8L647.1 979.8L647.6 978.2L647.7 977.8L648.4 975.8L649.1 973.8L650 971.8L650.8 969.8L651.7 967.8L652.2 966.7L652.6 965.8L653.5 963.8L654.5 961.8L655.5 959.8L656.5 957.8L657.6 955.8L657.9 955.2L658.7 953.8L659.8 951.8L661 949.8L662.3 947.8L663.5 945.8L664.8 943.8L666.1 941.8L667.5 939.8L668.9 937.8L670.3 935.8L671.7 933.8L672.8 932.3L673.2 931.8L674.6 929.8L676 927.8L677.5 925.8L678.9 923.8L680.2 921.8L680.8 920.8L681.4 919.8L682.5 917.8L683.5 915.8L684.5 913.8L685.5 911.8L686.4 909.8L686.6 909.4L687.3 907.8L688.2 905.8L689 903.8L689.8 901.8L690.6 899.8L691.2 897.9L691.2 897.8L691.8 895.8L692.4 893.8L693 891.8L693.5 889.8L693.9 887.8L694.1 886.4L694.2 885.8L694.5 883.8L694.8 881.8L695 879.8L695.2 877.8L695.3 875.8L695.3 875L695.3 873.8L695.3 871.8L695.2 869.8L695.1 867.8L695 865.8L694.9 863.8L694.8 861.8L694.7 859.8L694.6 858.9L694.5 857.8L694.2 855.8L693.7 853.8L693.2 851.8L692.6 849.8L692 847.8L691.4 845.8L691.2 845.1L690.8 843.8L690.2 841.8L689.6 839.8L688.9 837.8L688.2 835.8L687.5 833.8L686.7 831.8L686.6 831.4L686 829.8L685.2 827.8L684.4 825.8L683.5 823.8L682.7 821.8L681.8 819.8L680.9 817.8L680.8 817.6L680 815.8L679 813.8L678 811.8L677 809.8L676 807.8L675 805.8L674 803.9L674 803.8L672.9 801.8L671.9 799.8L670.9 797.8L669.9 795.8L668.9 793.8L667.9 791.8L666.9 789.8L666 787.8L665.1 785.8L664.2 783.8L663.3 781.8L662.4 779.8L661.5 777.8L660.7 775.8L659.9 773.8L659 771.8L659 771.7L658.2 769.8L657.4 767.8L656.7 765.8L655.9 763.8L655.1 761.8L654.4 759.8L653.7 757.8L653 755.8L652.3 753.8L652.2 753.4L651.7 751.8L651 749.8L650.3 747.8L649.7 745.8L649 743.8L648.5 741.8L648 739.8L647.7 737.8L647.6 737.3L647.4 735.8L647.2 733.8L646.9 731.8L646.7 729.8L646.5 727.8L646.3 725.8L646.2 723.8L646.1 721.8L646 719.8L646 717.8Z" fill="#fff" stroke="#333" stroke-width="2.5" stroke-linejoin="round"/>
<path d="M834.5 744.2V775.2M834.5 961V1010.3" stroke="#333" stroke-width="2.0" fill="none"/>
<path d="M834.5 753.4V776.2M834.5 960V989.6" stroke="#333" stroke-width="4.9" fill="none"/>
<path d="M831.5 775.2L831.3 777.2L830.8 779.2L830.3 781.2L829.6 783.2L828.9 785.2L828.8 785.5L828.1 787.2L827 789.2L825.7 791.2L824.2 793.2L823 794.7L822.6 795.2L820.6 797.2L818.2 799.2L815.6 801.2L812.9 803.2L810.4 805.2L809.3 806.1L808.1 807.2L805.9 809.2L803.8 811.2L801.6 813.2L799.5 815.2L797.2 817.2L796.7 817.6L794.8 819.2L792.2 821.2L789.6 823.2L787 825.2L784.3 827.2L781.7 829.1L781.6 829.2L778.7 831.2L775.8 833.2L772.8 835.2L770 837.2L767.3 839.2L765.7 840.6L765 841.2L762.9 843.2L760.8 845.2L759 847.2L757.3 849.2L755.9 851.2L755.4 852L754.8 853.2L753.8 855.2L753 857.2L752.3 859.2L751.6 861.2L750.9 863.2L750.8 863.5L750.2 865.2L749.4 867.2L748.7 869.2L748.1 871.2L747.8 873.2L747.8 873.8L748 875.2L748.8 877.2L750 879.2L751.5 881.2L751.9 881.8L753.2 883.2L755.6 885.2L758.6 887.2L761.7 889.2L764.5 891L764.8 891.2L768 893.2L771.4 895.2L774.8 897.2L778 899.2L779.5 900.2L780.9 901.2L783.5 903.2L785.9 905.2L788.3 907.2L790.7 909.2L790.9 909.4L793.1 911.2L795.6 913.2L798.1 915.2L800.5 917.2L802.9 919.2L804.7 920.8L805.1 921.2L807.3 923.2L809.4 925.2L811.5 927.2L813.5 929.2L815.3 931.2L816.2 932.3L816.9 933.2L818.5 935.2L819.9 937.2L821.3 939.2L822.6 941.2L823.8 943.2L824.2 943.8L825 945.2L826.1 947.2L827.2 949.2L828.2 951.2L829.1 953.2L829.9 955.2L830.5 957.2L831.1 959.2L831.5 961L837.5 961L837.9 959.2L838.5 957.2L839.1 955.2L839.9 953.2L840.8 951.2L841.8 949.2L842.9 947.2L844 945.2L844.8 943.8L845.2 943.2L846.4 941.2L847.7 939.2L849.1 937.2L850.5 935.2L852.1 933.2L852.8 932.3L853.7 931.2L855.5 929.2L857.5 927.2L859.6 925.2L861.7 923.2L863.9 921.2L864.3 920.8L866.1 919.2L868.5 917.2L870.9 915.2L873.4 913.2L875.9 911.2L878.1 909.4L878.3 909.2L880.7 907.2L883.1 905.2L885.5 903.2L888.1 901.2L889.5 900.2L891 899.2L894.2 897.2L897.6 895.2L901 893.2L904.2 891.2L904.5 891L907.3 889.2L910.4 887.2L913.4 885.2L915.8 883.2L917.1 881.8L917.5 881.2L919 879.2L920.2 877.2L921 875.2L921.2 873.8L921.2 873.2L920.9 871.2L920.3 869.2L919.6 867.2L918.8 865.2L918.2 863.5L918.1 863.2L917.4 861.2L916.7 859.2L916 857.2L915.2 855.2L914.2 853.2L913.6 852L913.1 851.2L911.7 849.2L910 847.2L908.2 845.2L906.1 843.2L904 841.2L903.3 840.6L901.7 839.2L899 837.2L896.2 835.2L893.2 833.2L890.3 831.2L887.4 829.2L887.3 829.1L884.7 827.2L882 825.2L879.4 823.2L876.8 821.2L874.2 819.2L872.3 817.6L871.8 817.2L869.5 815.2L867.4 813.2L865.2 811.2L863.1 809.2L860.9 807.2L859.7 806.1L858.6 805.2L856.1 803.2L853.4 801.2L850.8 799.2L848.4 797.2L846.4 795.2L846 794.7L844.8 793.2L843.3 791.2L842 789.2L840.9 787.2L840.2 785.5L840.1 785.2L839.4 783.2L838.7 781.2L838.2 779.2L837.7 777.2L837.5 775.2Z" fill="#fff" stroke="#333" stroke-width="2.5" stroke-linejoin="round"/>
<path d="M137.1 874.4H946" stroke="#000" stroke-width="2.9" fill="none"/>
</g>
<g id="panel-D">
<rect x="1117" y="655" width="826" height="418" fill="#ebebeb"/>
<path d="M1117 704.3H1943" stroke="#fff" stroke-width="3.2" fill="none"/>
<path d="M1117 754.1H1943" stroke="#fff" stroke-width="3.0" fill="none"/>
<path d="M1117 802.2H1943" stroke="#fff" stroke-width="2.6" fill="none"/>
<path d="M1117 852H1943" stroke="#fff" stroke-width="3.2" fill="none"/>
<path d="M1117 903.3H1943" stroke="#fff" stroke-width="3.0" fill="none"/>
<path d="M1117 953.1H1943" stroke="#fff" stroke-width="3.0" fill="none"/>
<path d="M1117 1004.3H1943" stroke="#fff" stroke-width="2.3" fill="none"/>
<path d="M1117 1051.5H1943" stroke="#fff" stroke-width="3.2" fill="none"/>
<path d="M1235 655V1073M1433 655V1073M1629.5 655V1073M1827 655V1073" stroke="#fff" stroke-width="2.8" fill="none"/>
<path d="M1106 704.3H1117M1106 802.2H1117M1106 903.3H1117M1106 1004.3H1117" stroke="#333" stroke-width="2.8" fill="none"/>
<text x="1095" y="719.3" font-size="34" fill="#666" text-anchor="end">20</text>
<text x="1095" y="817.2" font-size="34" fill="#666" text-anchor="end">10</text>
<text x="1095" y="918.3" font-size="34" fill="#666" text-anchor="end">0</text>
<text x="1095" y="1019.3" font-size="34" fill="#666" text-anchor="end">10</text>
<path d="M1235 823.3V855.5M1235 955.2V1066.5" stroke="#333" stroke-width="3.0" fill="none"/>
<path d="M1235 845.1V856.5M1235 954.2V975.9" stroke="#333" stroke-width="5.8" fill="none"/>
<path d="M1232 855.5L1231.1 857.5L1229.8 859.5L1228.3 861.5L1226.5 863.5L1224.4 865.5L1221.7 867.5L1218.7 869.5L1217.3 870.4L1215.4 871.5L1211.5 873.5L1207.3 875.5L1203.6 877.2L1202.9 877.5L1198.4 879.5L1193.7 881.5L1188.9 883.5L1187.5 884.1L1184.3 885.5L1179.7 887.5L1175.1 889.5L1171.5 891L1170.2 891.5L1164.4 893.5L1158.9 895.5L1156.6 896.7L1155.5 897.5L1153 899.5L1152 901.3L1152 901.5L1152.7 903.5L1154.1 905.5L1155.4 907L1155.9 907.5L1158.4 909.5L1161.9 911.5L1165.9 913.5L1167 914L1170.8 915.5L1177.2 917.5L1183.7 919.5L1187.5 920.8L1189.3 921.5L1194.2 923.5L1198.8 925.5L1203.2 927.5L1203.6 927.7L1207.6 929.5L1211.9 931.5L1215.6 933.5L1217.3 934.6L1218.4 935.5L1220.7 937.5L1222.5 939.5L1224.2 941.5L1225.7 943.5L1227.1 945.5L1228.3 947.5L1228.8 948.3L1229.4 949.5L1230.4 951.5L1231.3 953.5L1232 955.2L1238 955.2L1238.7 953.5L1239.6 951.5L1240.6 949.5L1241.2 948.3L1241.7 947.5L1242.9 945.5L1244.3 943.5L1245.8 941.5L1247.5 939.5L1249.3 937.5L1251.6 935.5L1252.7 934.6L1254.4 933.5L1258.1 931.5L1262.4 929.5L1266.4 927.7L1266.8 927.5L1271.2 925.5L1275.8 923.5L1280.7 921.5L1282.5 920.8L1286.3 919.5L1292.8 917.5L1299.2 915.5L1303 914L1304.1 913.5L1308.1 911.5L1311.6 909.5L1314.1 907.5L1314.6 907L1315.9 905.5L1317.3 903.5L1318 901.5L1318 901.3L1317 899.5L1314.5 897.5L1313.4 896.7L1311.1 895.5L1305.6 893.5L1299.8 891.5L1298.5 891L1294.9 889.5L1290.3 887.5L1285.7 885.5L1282.5 884.1L1281.1 883.5L1276.3 881.5L1271.6 879.5L1267.1 877.5L1266.4 877.2L1262.7 875.5L1258.5 873.5L1254.6 871.5L1252.7 870.4L1251.3 869.5L1248.3 867.5L1245.6 865.5L1243.5 863.5L1241.7 861.5L1240.2 859.5L1238.9 857.5L1238 855.5Z" fill="#fff" stroke="#333" stroke-width="2.5" stroke-linejoin="round"/>
<path d="M1433 689.2V826.8M1433 951.8V1021.7" stroke="#333" stroke-width="3.0" fill="none"/>
<path d="M1433 798.1V827.8M1433 950.8V967.8" stroke="#333" stroke-width="5.8" fill="none"/>
<path d="M1430 826.8L1429.8 828.8L1429.4 830.8L1428.9 832.8L1428.2 834.8L1427.4 836.8L1426.5 838.8L1425.7 840.6L1425.6 840.8L1424.4 842.8L1422.9 844.8L1421.3 846.8L1419.5 848.8L1418.8 849.7L1417.9 850.8L1416.2 852.8L1414.5 854.8L1412.7 856.8L1410.9 858.8L1410.8 858.9L1409 860.8L1407.1 862.8L1405.2 864.8L1403.1 866.8L1401.6 868.1L1400.7 868.8L1397.9 870.8L1394.9 872.8L1391.9 874.8L1389.4 876.8L1389 877.2L1387.6 878.8L1386 880.8L1384.7 882.8L1383.3 884.8L1382 886.4L1381.7 886.8L1379.7 888.8L1377.6 890.8L1375.6 892.8L1373.7 894.8L1373 895.6L1372 896.8L1370.2 898.8L1368.8 900.8L1368.3 902.5L1368.3 902.8L1369 904.8L1370.5 906.8L1372.4 908.8L1373 909.4L1374.7 910.8L1377.9 912.8L1381.7 914.8L1384.4 916.2L1385.6 916.8L1390.2 918.8L1395.1 920.8L1399.7 922.8L1400.4 923.1L1404.1 924.8L1408.4 926.8L1412.3 928.8L1414.2 930L1415.3 930.8L1418 932.8L1420.2 934.8L1422.1 936.8L1422.2 936.9L1423.7 938.8L1425.1 940.8L1426.3 942.8L1426.8 943.8L1427.3 944.8L1428.2 946.8L1429 948.8L1429.7 950.8L1430 951.8L1436 951.8L1436.3 950.8L1437 948.8L1437.8 946.8L1438.7 944.8L1439.2 943.8L1439.7 942.8L1440.9 940.8L1442.3 938.8L1443.8 936.9L1443.9 936.8L1445.8 934.8L1448 932.8L1450.7 930.8L1451.8 930L1453.7 928.8L1457.6 926.8L1461.9 924.8L1465.6 923.1L1466.3 922.8L1470.9 920.8L1475.8 918.8L1480.4 916.8L1481.6 916.2L1484.3 914.8L1488.1 912.8L1491.3 910.8L1493 909.4L1493.6 908.8L1495.5 906.8L1497 904.8L1497.7 902.8L1497.7 902.5L1497.2 900.8L1495.8 898.8L1494 896.8L1493 895.6L1492.3 894.8L1490.4 892.8L1488.4 890.8L1486.3 888.8L1484.3 886.8L1484 886.4L1482.7 884.8L1481.3 882.8L1480 880.8L1478.4 878.8L1477 877.2L1476.6 876.8L1474.1 874.8L1471.1 872.8L1468.1 870.8L1465.3 868.8L1464.4 868.1L1462.9 866.8L1460.8 864.8L1458.9 862.8L1457 860.8L1455.2 858.9L1455.1 858.8L1453.3 856.8L1451.5 854.8L1449.8 852.8L1448.1 850.8L1447.2 849.7L1446.5 848.8L1444.7 846.8L1443.1 844.8L1441.6 842.8L1440.4 840.8L1440.3 840.6L1439.5 838.8L1438.6 836.8L1437.8 834.8L1437.1 832.8L1436.6 830.8L1436.2 828.8L1436 826.8Z" fill="#fff" stroke="#333" stroke-width="2.5" stroke-linejoin="round"/>
<path d="M1629.5 672.6V781.6M1629.5 945.6V1004" stroke="#333" stroke-width="3.0" fill="none"/>
<path d="M1629.5 770.1V782.6M1629.5 944.6V951.3" stroke="#333" stroke-width="5.8" fill="none"/>
<path d="M1626.5 781.6L1626.3 783.6L1626.1 785.6L1625.8 787.6L1625.5 789.6L1625.1 791.6L1624.8 793.6L1624.4 795.6L1624 797.6L1623.6 799.6L1623.1 801.6L1622.5 803.6L1622 805.6L1621.3 807.6L1620.7 809.6L1620.1 811.4L1620 811.6L1619.3 813.6L1618.6 815.6L1617.8 817.6L1617 819.6L1616.1 821.6L1615.2 823.6L1614.5 825.1L1614.3 825.6L1613.2 827.6L1612.1 829.6L1610.9 831.6L1609.6 833.6L1608.2 835.6L1607.5 836.6L1606.7 837.6L1604.9 839.6L1602.8 841.6L1600.6 843.6L1598.5 845.6L1596.5 847.6L1596 848.1L1594.6 849.6L1592.7 851.6L1590.9 853.6L1589.2 855.6L1588 857.2L1587.7 857.6L1586.2 859.6L1584.8 861.6L1583.6 863.6L1582.6 865.6L1582.3 866.4L1581.9 867.6L1581.3 869.6L1580.7 871.6L1580.3 873.6L1580 875.6L1580 876.7L1580 877.6L1580.3 879.6L1580.7 881.6L1581.2 883.6L1581.8 885.6L1582.3 887.1L1582.5 887.6L1583.2 889.6L1584.2 891.6L1585.2 893.6L1586.4 895.6L1586.8 896.2L1587.7 897.6L1589.3 899.6L1591.1 901.6L1592.5 903.1L1593 903.6L1595.3 905.6L1597.9 907.6L1600.6 909.6L1603.1 911.6L1604 912.3L1605.6 913.6L1608 915.6L1610.4 917.6L1612.6 919.6L1614.5 921.5L1614.6 921.6L1616.3 923.6L1617.9 925.6L1619.3 927.6L1620.6 929.6L1621.2 930.6L1621.8 931.6L1623 933.6L1624.2 935.6L1625.1 937.6L1625.8 939.6L1625.8 939.8L1626.1 941.6L1626.4 943.6L1626.5 945.6L1632.5 945.6L1632.6 943.6L1632.9 941.6L1633.2 939.8L1633.2 939.6L1633.9 937.6L1634.8 935.6L1636 933.6L1637.2 931.6L1637.8 930.6L1638.4 929.6L1639.7 927.6L1641.1 925.6L1642.7 923.6L1644.4 921.6L1644.5 921.5L1646.4 919.6L1648.6 917.6L1651 915.6L1653.4 913.6L1655 912.3L1655.9 911.6L1658.4 909.6L1661.1 907.6L1663.7 905.6L1666 903.6L1666.5 903.1L1667.9 901.6L1669.7 899.6L1671.3 897.6L1672.2 896.2L1672.6 895.6L1673.8 893.6L1674.8 891.6L1675.8 889.6L1676.5 887.6L1676.7 887.1L1677.2 885.6L1677.8 883.6L1678.3 881.6L1678.7 879.6L1679 877.6L1679 876.7L1679 875.6L1678.7 873.6L1678.3 871.6L1677.7 869.6L1677.1 867.6L1676.7 866.4L1676.4 865.6L1675.4 863.6L1674.2 861.6L1672.8 859.6L1671.3 857.6L1671 857.2L1669.8 855.6L1668.1 853.6L1666.3 851.6L1664.4 849.6L1663 848.1L1662.5 847.6L1660.5 845.6L1658.4 843.6L1656.2 841.6L1654.1 839.6L1652.3 837.6L1651.5 836.6L1650.8 835.6L1649.4 833.6L1648.1 831.6L1646.9 829.6L1645.8 827.6L1644.7 825.6L1644.5 825.1L1643.8 823.6L1642.9 821.6L1642 819.6L1641.2 817.6L1640.4 815.6L1639.7 813.6L1639 811.6L1638.9 811.4L1638.3 809.6L1637.7 807.6L1637 805.6L1636.5 803.6L1635.9 801.6L1635.4 799.6L1635 797.6L1634.6 795.6L1634.2 793.6L1633.9 791.6L1633.5 789.6L1633.2 787.6L1632.9 785.6L1632.7 783.6L1632.5 781.6Z" fill="#fff" stroke="#333" stroke-width="2.5" stroke-linejoin="round"/>
<path d="M1827 829.7V863M1827 959.3V1030.4" stroke="#333" stroke-width="3.0" fill="none"/>
<path d="M1827 842.3V864M1827 958.3V996" stroke="#333" stroke-width="5.8" fill="none"/>
<path d="M1824 863L1823.7 865L1823 867L1821.9 869L1820.6 871L1818.4 873L1814.9 875L1810.9 877L1809.1 877.9L1806.9 879L1802.5 881L1797.6 883L1793 884.8L1792.5 885L1786.7 887L1780.5 889L1774.4 891L1772.4 891.7L1768.7 893L1763.2 895L1757.9 897L1754 898.5L1752.7 899L1747.3 901L1742.5 903L1740.3 904.3L1739.4 905L1737 907L1735.5 909L1735.3 910L1735.7 911L1738 913L1741.4 915L1742.6 915.7L1745.1 917L1749.8 919L1755.1 921L1756.4 921.5L1760.6 923L1766.7 925L1773 927L1777 928.3L1779.1 929L1785.5 931L1791.6 933L1797.1 935L1797.6 935.2L1801.8 937L1806.1 939L1809.8 941L1811.4 942.1L1812.5 943L1814.8 945L1816.6 947L1818.3 949L1819.9 951L1821.3 953L1822.5 955L1822.9 955.9L1823.3 957L1823.9 959L1824 959.3L1830 959.3L1830.1 959L1830.7 957L1831.1 955.9L1831.5 955L1832.7 953L1834.1 951L1835.7 949L1837.4 947L1839.2 945L1841.5 943L1842.6 942.1L1844.2 941L1847.9 939L1852.2 937L1856.4 935.2L1856.9 935L1862.4 933L1868.5 931L1874.9 929L1877 928.3L1881 927L1887.3 925L1893.4 923L1897.6 921.5L1898.9 921L1904.2 919L1908.9 917L1911.4 915.7L1912.6 915L1916 913L1918.3 911L1918.7 910L1918.5 909L1917 907L1914.6 905L1913.7 904.3L1911.5 903L1906.7 901L1901.3 899L1900 898.5L1896.1 897L1890.8 895L1885.3 893L1881.6 891.7L1879.6 891L1873.5 889L1867.3 887L1861.5 885L1861 884.8L1856.4 883L1851.5 881L1847.1 879L1844.9 877.9L1843.1 877L1839.1 875L1835.6 873L1833.4 871L1832.1 869L1831 867L1830.3 865L1830 863Z" fill="#fff" stroke="#333" stroke-width="2.5" stroke-linejoin="round"/>
<path d="M1106 903.3H1943" stroke="#000" stroke-width="2.6" fill="none"/>
</g>
<path d="M28.4 668.2H41.3M49.9 668.2H55" stroke="#222" stroke-width="1" fill="none"/>
<path d="M1118.4 1072.9V1083.5" stroke="#ebebeb" stroke-width="2.8" fill="none"/>
<text x="261.8" y="541.6" font-size="38" text-anchor="middle">7</text>
<text x="450.6" y="541.6" font-size="38" text-anchor="middle">21</text>
<text x="641.5" y="541.6" font-size="38" text-anchor="middle">56</text>
<text x="833" y="541.6" font-size="38" text-anchor="middle">84</text>
<text x="1239.4" y="541.6" font-size="38" text-anchor="middle">7</text>
<text x="1438.7" y="541.6" font-size="38" text-anchor="middle">21</text>
<text x="1629.8" y="541.6" font-size="38" text-anchor="middle">56</text>
<text x="1821" y="541.6" font-size="38" text-anchor="middle">84</text>
<text x="261.7" y="1127.5" font-size="38" text-anchor="middle">7</text>
<text x="451.3" y="1127.5" font-size="38" text-anchor="middle">21</text>
<text x="643" y="1127.5" font-size="38" text-anchor="middle">56</text>
<text x="833.9" y="1127.5" font-size="38" text-anchor="middle">84</text>
<text x="1230.8" y="1128.8" font-size="38" text-anchor="middle">7</text>
<text x="1429.5" y="1128.8" font-size="38" text-anchor="middle">21</text>
<text x="1631.8" y="1128.8" font-size="38" text-anchor="middle">56</text>
<text x="1832.9" y="1128.8" font-size="38" text-anchor="middle">84</text>
<text x="413.4" y="598.4" font-size="35" font-weight="bold" textLength="272" lengthAdjust="spacingAndGlyphs">Days post OHT</text>
<text x="1390.5" y="598.9" font-size="35" font-weight="bold" textLength="272" lengthAdjust="spacingAndGlyphs">Days post OHT</text>
<text x="413" y="1183.9" font-size="35" font-weight="bold" textLength="272" lengthAdjust="spacingAndGlyphs">Days post OHT</text>
<text x="1391.9" y="1186.1" font-size="35" font-weight="bold" textLength="272" lengthAdjust="spacingAndGlyphs">Days post OHT</text>
<text x="0" y="0" font-size="43.5" transform="translate(59.9 448.7) scale(0.9 1) rotate(-90)" stroke="#000" stroke-width="1.6" stroke-linejoin="miter">△</text>
<text x="0" y="0" font-size="40.5" font-weight="bold" textLength="309.6" lengthAdjust="spacingAndGlyphs" transform="translate(64.7 412.8) rotate(-90)">Mean NND (µm)</text>
<text x="0" y="0" font-size="43.5" transform="translate(1023.5 310.9) scale(0.9 1) rotate(-90)" stroke="#000" stroke-width="1.6" stroke-linejoin="miter">△</text>
<text x="0" y="0" font-size="40.5" font-weight="bold" textLength="36.8" lengthAdjust="spacingAndGlyphs" transform="translate(1028.3 274.6) rotate(-90)">RI</text>
<text x="0" y="0" font-size="43.5" transform="translate(59.9 1052.5) scale(0.9 1) rotate(-90)" stroke="#000" stroke-width="1.6" stroke-linejoin="miter">△</text>
<text x="0" y="0" font-size="40.5" font-weight="bold" textLength="317.3" lengthAdjust="spacingAndGlyphs" transform="translate(64.7 1015.8) rotate(-90)">Mean area (µm²)</text>
<text x="0" y="0" font-size="43.5" transform="translate(1023.6 1046.1) scale(0.9 1) rotate(-90)" stroke="#000" stroke-width="1.6" stroke-linejoin="miter">△</text>
<text x="0" y="0" font-size="40.5" font-weight="bold" textLength="304.6" lengthAdjust="spacingAndGlyphs" transform="translate(1028.4 1009.8) rotate(-90)">MAD area (µm²)</text>
<text x="4.3" y="65.9" font-size="76" font-weight="bold">A</text>
<text x="975" y="65.9" font-size="76" font-weight="bold">B</text>
<text x="4" y="632.8" font-size="76" font-weight="bold">C</text>
<text x="975.3" y="632.9" font-size="76" font-weight="bold">D</text>
<text x="4.5" y="1269.9" font-size="76" font-weight="bold">E</text>
<text x="975.4" y="1269.8" font-size="76" font-weight="bold">F</text>
<text x="6.8" y="1891" font-size="76" font-weight="bold">G</text>
<text x="974.3" y="1890.6" font-size="76" font-weight="bold">H</text>
<g id="panel-E">
<path d="M155 1660L943 1244" stroke="#9c9c9c" stroke-width="1.8" fill="none"/>
<path d="M183.3 1646L183.3 1634.5L187.3 1630.3L187.8 1629.9L191.3 1627.1L195.3 1624.3L199.3 1621.7L203.3 1619.3L207.3 1616.8L211.3 1614.2L215.3 1611.2L215.4 1611.1L219.3 1607.7L223.3 1604L227.3 1599.9L231.3 1595.7L235.3 1591.4L239.3 1587L243.3 1582.7L247.3 1578.5L248.6 1577.2L251.3 1574.5L255.3 1570.4L259.3 1566.3L263.3 1562.2L267.3 1558.1L271.3 1554.1L275.3 1550.2L279.3 1546.3L280.7 1545L283.3 1542.6L287.3 1539L291.3 1535.4L295.3 1531.9L299.3 1528.5L303.3 1525L307.3 1521.6L310.6 1518.7L311.3 1518.1L315.3 1514.6L319.3 1511.1L323.3 1507.7L327.3 1504.2L331.3 1500.7L335.3 1497.1L338.1 1494.6L339.3 1493.5L343.3 1489.7L347.3 1485.8L351.3 1481.9L355.3 1477.8L359.3 1473.8L363.3 1469.8L367.3 1465.8L371.3 1461.9L375.3 1458.1L379.3 1454.5L379.4 1454.4L383.3 1450.9L387.3 1447.4L391.3 1444L395.3 1440.6L399.3 1437.3L403.3 1434L407.3 1430.8L411.3 1427.6L415.3 1424.4L419.3 1421.3L420 1420.8L423.3 1418.3L427.3 1415.3L431.3 1412.4L435.3 1409.5L439.3 1406.6L443.3 1403.8L447.3 1401.1L451.3 1398.3L454.4 1396.2L455.3 1395.6L459.3 1392.9L463.3 1390.2L467.3 1387.6L471.3 1384.9L475.3 1382.4L479.3 1379.8L483.3 1377.3L487.3 1374.8L488.8 1373.9L491.3 1372.4L495.3 1370L499.3 1367.6L503.3 1365.3L507.3 1363L511.3 1360.7L515.3 1358.5L519.3 1356.3L523.2 1354.1L523.3 1354L527.3 1351.9L531.3 1349.7L535.3 1347.6L539.3 1345.5L543.3 1343.4L547.3 1341.3L551.3 1339.2L555.3 1337.2L557.6 1336L559.3 1335.1L563.3 1333.1L567.3 1331.1L571.3 1329L575.3 1327L579.3 1325L583.3 1323.1L587.3 1321.1L591.3 1319.1L592 1318.8L595.3 1317.2L599.3 1315.3L603.3 1313.4L607.3 1311.4L611.3 1309.6L615.3 1307.7L619.3 1305.8L623.3 1303.9L626.4 1302.5L627.3 1302.1L631.3 1300.2L635.3 1298.3L639.3 1296.4L643.3 1294.5L647.3 1292.7L651.3 1290.9L655.3 1289.2L659.3 1287.6L660.8 1287L663.3 1286.1L667.3 1284.6L671.3 1283.2L675.3 1281.8L679.3 1280.5L683.3 1279.2L687.3 1278L691.3 1276.9L695.2 1275.8L695.3 1275.8L699.3 1274.8L703.3 1273.8L707.3 1272.9L711.3 1272L715.3 1271.2L719.3 1270.3L720 1270.2L723.3 1269.5L727.3 1268.7L731.3 1267.9L735.3 1267.2L739.3 1266.6L740.4 1266.4L743.3 1266L747.3 1265.4L751.3 1264.9L755.3 1264.4L759.3 1264L763.3 1263.5L767.3 1263.1L771.3 1262.7L775.3 1262.2L779.3 1261.8L779.4 1261.8L783.3 1261.4L787.3 1260.9L791.3 1260.4L795.3 1260L799.3 1259.7L802.3 1259.5L803.3 1259.5L807.3 1259.3L811.3 1259.1L815.3 1259L819.3 1258.9L823.3 1258.8L827.3 1258.7L831.3 1258.6L835.3 1258.5L839.3 1258.4L843.3 1258.4L847.3 1258.3L848.2 1258.3L851.3 1258.3L855.3 1258.2L859.3 1258.1L863.3 1258.1L867.3 1258L871.3 1258L875.3 1258L879.3 1257.9L883.3 1257.9L887.3 1257.8L891.3 1257.8L895.3 1257.8L899.3 1257.7L903.3 1257.7L907.3 1257.7L911.3 1257.7L914.7 1257.7" stroke="#000" stroke-width="3.6" fill="none" stroke-linejoin="round"/>
<rect x="155" y="1244" width="788" height="416" fill="none" stroke="#000" stroke-width="2"/>
<path d="M137 1338H155M137 1414H155M137 1491H155M137 1567H155M137 1646H155M184 1660V1677.8M329 1660V1677.8M620 1660V1677.8M767 1660V1677.8M914 1660V1677.8" stroke="#000" stroke-width="2" fill="none"/>
<path d="M137 1258.5H155M475.5 1660V1677.8" stroke="#000" stroke-width="3" fill="none"/>
<text x="183.7" y="1720.8" font-size="27" fill="#1a1a1a" text-anchor="middle">1.0</text>
<text x="0" y="0" font-size="27" fill="#1a1a1a" text-anchor="middle" transform="translate(116.1 1258.5) scale(1.09 1) rotate(-90)">1.0</text>
<text x="328.7" y="1720.8" font-size="27" fill="#1a1a1a" text-anchor="middle">0.8</text>
<text x="0" y="0" font-size="27" fill="#1a1a1a" text-anchor="middle" transform="translate(116.1 1338) scale(1.09 1) rotate(-90)">0.8</text>
<text x="475.2" y="1720.8" font-size="27" fill="#1a1a1a" text-anchor="middle">0.6</text>
<text x="0" y="0" font-size="27" fill="#1a1a1a" text-anchor="middle" transform="translate(116.1 1414) scale(1.09 1) rotate(-90)">0.6</text>
<text x="619.7" y="1720.8" font-size="27" fill="#1a1a1a" text-anchor="middle">0.4</text>
<text x="0" y="0" font-size="27" fill="#1a1a1a" text-anchor="middle" transform="translate(116.1 1491) scale(1.09 1) rotate(-90)">0.4</text>
<text x="766.7" y="1720.8" font-size="27" fill="#1a1a1a" text-anchor="middle">0.2</text>
<text x="0" y="0" font-size="27" fill="#1a1a1a" text-anchor="middle" transform="translate(116.1 1567) scale(1.09 1) rotate(-90)">0.2</text>
<text x="913.7" y="1720.8" font-size="27" fill="#1a1a1a" text-anchor="middle">0.0</text>
<text x="0" y="0" font-size="27" fill="#1a1a1a" text-anchor="middle" transform="translate(116.1 1646) scale(1.09 1) rotate(-90)">0.0</text>
<text x="548.2" y="1769.4" font-size="28.5" fill="#1a1a1a" text-anchor="middle" textLength="127" lengthAdjust="spacingAndGlyphs">Specificity</text>
<text x="0" y="0" font-size="27" fill="#1a1a1a" text-anchor="middle" transform="translate(65 1453) scale(1.09 1) rotate(-90)">Sensitivity</text>
<text x="631.4" y="1621" font-size="44.5" textLength="259.5" lengthAdjust="spacingAndGlyphs" xml:space="preserve">AUC: 0.6889</text>
</g>
<g id="panel-F">
<path d="M1149 1660L1938 1244" stroke="#9c9c9c" stroke-width="1.8" fill="none"/>
<path d="M1179.4 1645.5L1183.4 1641.8L1187.4 1637.9L1191.4 1633.8L1195 1629.9L1195.4 1629.5L1199.4 1625.3L1203.4 1620.7L1206.5 1616.1L1207.4 1614.2L1211.1 1604.7L1211.4 1604.1L1215.4 1597.9L1219.1 1593.2L1219.4 1592.8L1223.4 1588.3L1227.4 1584.3L1231.4 1580.5L1235.4 1576.7L1238.6 1573.7L1239.4 1572.9L1243.4 1569L1247.4 1565L1251.4 1561.2L1255.4 1557.5L1259.3 1554.2L1259.4 1554.1L1263.4 1551L1267.4 1548.2L1271.4 1545.5L1275.4 1542.8L1279.4 1540.1L1282.2 1538.2L1283.4 1537.4L1287.4 1534.5L1291.4 1531.7L1295.4 1528.8L1299.4 1526L1303.4 1523.1L1307.4 1520.2L1311.4 1517.3L1314.3 1515.2L1315.4 1514.4L1319.4 1511.4L1323.4 1508.4L1327.4 1505.4L1331.4 1502.4L1335.4 1499.4L1339.4 1496.4L1343.4 1493.4L1346.4 1491.1L1347.4 1490.4L1351.4 1487.4L1355.4 1484.4L1359.4 1481.4L1363.4 1478.4L1367.4 1475.4L1369.4 1473.9L1371.4 1472.4L1375.4 1469.4L1379.4 1466.4L1383.4 1463.4L1387.4 1460.4L1391.4 1457.4L1395.4 1454.4L1399.4 1451.4L1403.4 1448.4L1407.4 1445.4L1410.6 1443L1411.4 1442.4L1415.4 1439.4L1419.4 1436.3L1423.4 1433.3L1427.4 1430.2L1431.4 1427.2L1435.4 1424.1L1439.4 1421.1L1443.4 1418.1L1447.4 1415.2L1451.4 1412.4L1451.9 1412L1455.4 1409.5L1459.4 1406.7L1463.4 1403.9L1467.4 1401.1L1471.4 1398.4L1475.4 1395.7L1479.4 1393.1L1483.4 1390.5L1487.4 1388L1491.4 1385.6L1493.2 1384.5L1495.4 1383.2L1499.4 1381L1503.4 1378.8L1507.4 1376.7L1511.4 1374.6L1515.4 1372.6L1519.4 1370.6L1523.4 1368.6L1527.4 1366.7L1531.4 1364.7L1535.4 1362.7L1539.4 1360.7L1540 1360.4L1543.4 1358.7L1547.4 1356.6L1551.4 1354.6L1555.4 1352.6L1559.4 1350.6L1563.4 1348.6L1567.4 1346.6L1571.4 1344.7L1574.4 1343.2L1575.4 1342.7L1579.4 1340.8L1583.4 1338.8L1587.4 1336.9L1591.4 1335L1595.4 1333.1L1599.4 1331.2L1603.4 1329.5L1607.4 1327.8L1608.8 1327.2L1611.4 1326.2L1615.4 1324.6L1619.4 1323.1L1623.4 1321.7L1627.4 1320.3L1631.4 1318.9L1635.4 1317.5L1639.4 1316.2L1643.4 1314.9L1647.4 1313.5L1651.4 1312.2L1654.7 1311.1L1655.4 1310.9L1659.4 1309.5L1663.4 1308.2L1667.4 1306.8L1671.4 1305.5L1675.4 1304.2L1679.4 1302.9L1683.4 1301.6L1687.4 1300.3L1691.4 1299L1695.4 1297.8L1699.4 1296.6L1700.6 1296.2L1703.4 1295.4L1707.4 1294.2L1711.4 1293L1715.4 1291.9L1719.4 1290.7L1723.4 1289.6L1727.4 1288.5L1731.4 1287.4L1735.4 1286.4L1739.4 1285.3L1743.4 1284.3L1746.4 1283.6L1747.4 1283.4L1751.4 1282.4L1755.4 1281.5L1759.4 1280.6L1763.4 1279.7L1767.4 1278.8L1771.4 1278L1775.4 1277.2L1779.4 1276.4L1783.4 1275.6L1787.4 1274.8L1791.4 1274.1L1792.3 1273.9L1795.4 1273.3L1799.4 1272.6L1803.4 1271.9L1807.4 1271.2L1811.4 1270.5L1815.4 1269.9L1819.4 1269.2L1823.4 1268.6L1827.4 1268L1831.4 1267.4L1835.4 1266.8L1838.2 1266.4L1839.4 1266.2L1843.4 1265.7L1847.4 1265.2L1851.4 1264.6L1855.4 1264.1L1859.4 1263.7L1863.4 1263.2L1867.4 1262.7L1871.4 1262.3L1872.6 1262.2L1875.4 1261.9L1879.4 1261.5L1883.4 1261.1L1887.4 1260.8L1891.4 1260.4L1895.4 1260.1L1899.4 1259.7L1903.4 1259.4L1907.4 1259.1L1909.3 1259" stroke="#000" stroke-width="3.6" fill="none" stroke-linejoin="round"/>
<rect x="1149" y="1244" width="789" height="416" fill="none" stroke="#000" stroke-width="2"/>
<path d="M1132 1338H1149M1132 1414H1149M1132 1491H1149M1132 1567H1149M1132 1646H1149M1179 1660V1677.8M1324 1660V1677.8M1615 1660V1677.8M1762 1660V1677.8M1909 1660V1677.8" stroke="#000" stroke-width="2" fill="none"/>
<path d="M1132 1258.5H1149M1470.5 1660V1677.8" stroke="#000" stroke-width="3" fill="none"/>
<text x="1178.7" y="1720.8" font-size="27" fill="#1a1a1a" text-anchor="middle">1.0</text>
<text x="0" y="0" font-size="27" fill="#1a1a1a" text-anchor="middle" transform="translate(1111.1 1258.5) scale(1.09 1) rotate(-90)">1.0</text>
<text x="1323.7" y="1720.8" font-size="27" fill="#1a1a1a" text-anchor="middle">0.8</text>
<text x="0" y="0" font-size="27" fill="#1a1a1a" text-anchor="middle" transform="translate(1111.1 1338) scale(1.09 1) rotate(-90)">0.8</text>
<text x="1470.2" y="1720.8" font-size="27" fill="#1a1a1a" text-anchor="middle">0.6</text>
<text x="0" y="0" font-size="27" fill="#1a1a1a" text-anchor="middle" transform="translate(1111.1 1414) scale(1.09 1) rotate(-90)">0.6</text>
<text x="1614.7" y="1720.8" font-size="27" fill="#1a1a1a" text-anchor="middle">0.4</text>
<text x="0" y="0" font-size="27" fill="#1a1a1a" text-anchor="middle" transform="translate(1111.1 1491) scale(1.09 1) rotate(-90)">0.4</text>
<text x="1761.7" y="1720.8" font-size="27" fill="#1a1a1a" text-anchor="middle">0.2</text>
<text x="0" y="0" font-size="27" fill="#1a1a1a" text-anchor="middle" transform="translate(1111.1 1567) scale(1.09 1) rotate(-90)">0.2</text>
<text x="1908.7" y="1720.8" font-size="27" fill="#1a1a1a" text-anchor="middle">0.0</text>
<text x="0" y="0" font-size="27" fill="#1a1a1a" text-anchor="middle" transform="translate(1111.1 1646) scale(1.09 1) rotate(-90)">0.0</text>
<text x="1543.2" y="1769.4" font-size="28.5" fill="#1a1a1a" text-anchor="middle" textLength="127" lengthAdjust="spacingAndGlyphs">Specificity</text>
<text x="0" y="0" font-size="27" fill="#1a1a1a" text-anchor="middle" transform="translate(1060 1453) scale(1.09 1) rotate(-90)">Sensitivity</text>
<text x="1624.9" y="1621" font-size="44.5" textLength="257.3" lengthAdjust="spacingAndGlyphs" xml:space="preserve">AUC: 0.6574</text>
</g>
<g id="panel-G">
<path d="M155 2281L943 1865" stroke="#9c9c9c" stroke-width="1.8" fill="none"/>
<path d="M183.3 2266L183.3 2254.5L186.7 2247.6L187.3 2246.8L191.3 2242.8L195.3 2240L195.9 2239.6L199.3 2237.7L203.3 2235.7L207.3 2234L211.3 2232.4L215.3 2230.8L218.8 2229.3L219.3 2229.1L223.3 2227.2L227.3 2225.4L231.3 2223.6L235.3 2221.8L239.3 2219.9L243.3 2217.8L247.3 2215.7L248.6 2215L251.3 2213.4L255.3 2210.9L259.3 2208.2L263.3 2205.5L267.3 2202.6L271.3 2199.8L275.3 2197L278.4 2194.9L279.3 2194.3L283.3 2191.7L287.3 2189L291.3 2186.4L295.3 2183.8L299.3 2181.2L303.3 2178.7L307.3 2176.2L310.6 2174.2L311.3 2173.8L315.3 2171.4L319.3 2169.1L323.3 2166.9L327.3 2164.7L331.3 2162.5L335.3 2160.3L339.3 2158L343.3 2155.7L345 2154.7L347.3 2153.3L351.3 2150.8L355.3 2148.3L359.3 2145.8L363.3 2143.2L367.3 2140.6L371.3 2138L375.3 2135.5L379.3 2133L379.4 2132.9L383.3 2130.5L387.3 2128L391.3 2125.5L395.3 2123.1L399.3 2120.6L403.3 2118.2L407.3 2115.7L409.2 2114.6L411.3 2113.3L415.3 2110.9L419.3 2108.5L423.3 2106.1L427.3 2103.7L431.3 2101.3L435.3 2099L439.3 2096.7L443.3 2094.4L447.3 2092.2L448.2 2091.7L451.3 2090L455.3 2088L459.3 2085.9L463.3 2083.9L467.3 2082L471.3 2080L475.3 2078.1L479.3 2076.1L483.3 2074.1L487.3 2072.1L491.3 2070.1L494 2068.7L495.3 2068L499.3 2065.9L503.3 2063.8L507.3 2061.6L511.3 2059.4L515.3 2057.2L519.3 2055L523.3 2052.8L527.3 2050.5L531.3 2048.3L535.3 2046.1L539.3 2043.8L543.3 2041.6L547.3 2039.3L550 2037.8L551.3 2037.1L555.3 2034.8L559.3 2032.5L563.3 2030.1L567.3 2027.8L571.3 2025.5L575.3 2023.2L579.3 2021L583.3 2018.9L584.4 2018.3L587.3 2016.8L591.3 2014.8L595.3 2012.8L599.3 2010.9L603.3 2009L607.3 2007.1L611.3 2005.3L615.3 2003.4L619.3 2001.6L623.3 1999.9L625.7 1998.8L627.3 1998.1L631.3 1996.4L635.3 1994.6L639.3 1992.9L643.3 1991.3L647.3 1989.6L651.3 1988L655.3 1986.4L659.3 1984.8L663.3 1983.2L664.7 1982.7L667.3 1981.7L671.3 1980.2L675.3 1978.8L679.3 1977.4L683.3 1975.9L687.3 1974.5L691.3 1973.1L695.3 1971.6L699.1 1970.1L699.3 1970L703.3 1968.4L707.3 1966.8L711.3 1965.2L715.3 1963.5L719.3 1961.7L723.3 1960L727.3 1958.1L731.3 1956.3L733.5 1955.2L735.3 1954.3L739.3 1952.2L743.3 1950L747.3 1947.8L751.3 1945.5L755.3 1943.2L756.4 1942.6L759.3 1941L763.3 1938.6L767.3 1936.3L771.3 1934.1L774.8 1932.2L775.3 1931.9L779.3 1929.9L783.3 1927.9L787.3 1926L791.3 1924.2L795.3 1922.4L799.3 1920.8L802.3 1919.6L803.3 1919.2L807.3 1917.7L811.3 1916.3L815.3 1915L819.3 1913.8L823.3 1912.7L825.2 1912.3L827.3 1911.9L831.3 1911.2L835.3 1910.6L839.3 1910L843.3 1909.5L847.3 1908.8L848.2 1908.6L851.3 1908L855.3 1907.1L859.3 1906.1L863.3 1905L867.3 1903.9L871.3 1902.8L875.3 1901.6L879.3 1900.4L880.3 1900.1L883.3 1899.3L887.3 1898.3L891.3 1897.4L895.3 1896.3L899.3 1895L903.3 1893.3L907.3 1890.9L908.9 1889.8L911.3 1885.4L913.5 1879.5" stroke="#000" stroke-width="3.6" fill="none" stroke-linejoin="round"/>
<rect x="155" y="1865" width="788" height="416" fill="none" stroke="#000" stroke-width="2"/>
<path d="M137 1959H155M137 2035H155M137 2112H155M137 2188H155M137 2267H155M184 2281V2298.8M329 2281V2298.8M620 2281V2298.8M767 2281V2298.8M914 2281V2298.8" stroke="#000" stroke-width="2" fill="none"/>
<path d="M137 1879.5H155M475.5 2281V2298.8" stroke="#000" stroke-width="3" fill="none"/>
<text x="183.7" y="2341.8" font-size="27" fill="#1a1a1a" text-anchor="middle">1.0</text>
<text x="0" y="0" font-size="27" fill="#1a1a1a" text-anchor="middle" transform="translate(116.1 1879.5) scale(1.09 1) rotate(-90)">1.0</text>
<text x="328.7" y="2341.8" font-size="27" fill="#1a1a1a" text-anchor="middle">0.8</text>
<text x="0" y="0" font-size="27" fill="#1a1a1a" text-anchor="middle" transform="translate(116.1 1959) scale(1.09 1) rotate(-90)">0.8</text>
<text x="475.2" y="2341.8" font-size="27" fill="#1a1a1a" text-anchor="middle">0.6</text>
<text x="0" y="0" font-size="27" fill="#1a1a1a" text-anchor="middle" transform="translate(116.1 2035) scale(1.09 1) rotate(-90)">0.6</text>
<text x="619.7" y="2341.8" font-size="27" fill="#1a1a1a" text-anchor="middle">0.4</text>
<text x="0" y="0" font-size="27" fill="#1a1a1a" text-anchor="middle" transform="translate(116.1 2112) scale(1.09 1) rotate(-90)">0.4</text>
<text x="766.7" y="2341.8" font-size="27" fill="#1a1a1a" text-anchor="middle">0.2</text>
<text x="0" y="0" font-size="27" fill="#1a1a1a" text-anchor="middle" transform="translate(116.1 2188) scale(1.09 1) rotate(-90)">0.2</text>
<text x="913.7" y="2341.8" font-size="27" fill="#1a1a1a" text-anchor="middle">0.0</text>
<text x="0" y="0" font-size="27" fill="#1a1a1a" text-anchor="middle" transform="translate(116.1 2267) scale(1.09 1) rotate(-90)">0.0</text>
<text x="548.2" y="2390.4" font-size="28.5" fill="#1a1a1a" text-anchor="middle" textLength="127" lengthAdjust="spacingAndGlyphs">Specificity</text>
<text x="0" y="0" font-size="27" fill="#1a1a1a" text-anchor="middle" transform="translate(65 2074) scale(1.09 1) rotate(-90)">Sensitivity</text>
<text x="630.3" y="2242" font-size="44.5" textLength="254.2" lengthAdjust="spacingAndGlyphs" xml:space="preserve">AUC: 0.5581</text>
</g>
<g id="panel-H">
<path d="M1149 2281L1938 1865" stroke="#9c9c9c" stroke-width="1.8" fill="none"/>
<path d="M1177.8 2266L1180.1 2249.9L1181.8 2241.3L1183.6 2233.9L1185.8 2226.5L1188.2 2220.1L1189.8 2216.5L1193.8 2209.2L1195 2207.5L1197.8 2204L1201.8 2199.8L1205.8 2196.2L1208.8 2193.7L1209.8 2192.9L1213.8 2189.7L1217.8 2186.7L1221.8 2183.9L1225.8 2181.3L1229.8 2178.8L1231.7 2177.7L1233.8 2176.5L1237.8 2174.3L1241.8 2172.2L1245.8 2170.2L1249.8 2168.3L1253.8 2166.6L1254.7 2166.2L1257.8 2164.9L1261.8 2163.4L1265.8 2162L1269.8 2160.6L1273.8 2159.2L1277.8 2157.9L1281.8 2156.5L1285.8 2155.1L1286.8 2154.7L1289.8 2153.6L1293.8 2152L1297.8 2150.4L1301.8 2148.8L1305.8 2147.2L1309.8 2145.6L1313.8 2144.1L1317.8 2142.5L1321.8 2140.9L1323.5 2140.3L1325.8 2139.4L1329.8 2138L1333.8 2136.5L1337.8 2135.1L1341.8 2133.7L1345.8 2132.3L1349.8 2130.9L1353.8 2129.5L1357.8 2128.1L1361.8 2126.6L1365.8 2125.2L1369.4 2123.8L1369.8 2123.6L1373.8 2122.1L1377.8 2120.5L1381.8 2119L1385.8 2117.4L1389.8 2115.7L1393.8 2114.1L1397.8 2112.5L1401.8 2110.8L1405.8 2109.2L1409.8 2107.6L1413.8 2106L1415.2 2105.4L1417.8 2104.4L1421.8 2102.8L1425.8 2101.1L1429.8 2099.5L1433.8 2097.9L1437.8 2096.3L1441.8 2094.7L1445.8 2093.1L1449.8 2091.5L1453.8 2089.9L1457.8 2088.4L1461.1 2087.1L1461.8 2086.8L1465.8 2085.3L1469.8 2083.8L1473.8 2082.4L1477.8 2080.9L1481.8 2079.5L1485.8 2078L1489.8 2076.5L1493.8 2075.1L1497.8 2073.5L1501.8 2072L1505.8 2070.4L1507 2069.9L1509.8 2068.7L1513.8 2067L1517.8 2065.2L1521.8 2063.3L1525.8 2061.4L1529.8 2059.6L1533.8 2057.7L1537.8 2056L1540 2055L1541.8 2054.2L1545.8 2052.6L1549.8 2051L1553.8 2049.4L1557.8 2047.9L1561.8 2046.3L1565.8 2044.8L1569.8 2043.3L1573.8 2041.7L1577.8 2040.1L1581.8 2038.4L1585.8 2036.6L1585.9 2036.6L1589.8 2034.8L1593.8 2032.9L1597.8 2030.9L1601.8 2028.8L1605.8 2026.7L1609.8 2024.5L1613.8 2022.4L1617.8 2020.4L1621.8 2018.3L1625.8 2016.4L1629.8 2014.5L1631.7 2013.7L1633.8 2012.8L1637.8 2011.2L1641.8 2009.8L1645.8 2008.4L1649.8 2007.1L1653.8 2005.7L1657.8 2004.3L1661.8 2002.7L1665.8 2001.1L1669.8 1999.2L1670.7 1998.8L1673.8 1997.1L1677.8 1994.6L1681.8 1991.9L1685.8 1988.9L1689.8 1985.9L1693.8 1982.9L1697.8 1980L1700.6 1978.1L1701.8 1977.3L1705.8 1974.7L1709.8 1972.1L1713.8 1969.6L1717.8 1967.1L1721.8 1964.6L1725.8 1962.1L1729.8 1959.6L1733.8 1957.1L1735 1956.3L1737.8 1954.5L1741.8 1951.9L1745.8 1949.4L1749.8 1946.8L1753.8 1944.2L1757.8 1941.6L1761.8 1939.1L1765.8 1936.7L1769.4 1934.5L1769.8 1934.3L1773.8 1931.9L1777.8 1929.6L1781.8 1927.3L1785.8 1925.1L1789.8 1922.9L1793.8 1920.7L1797.8 1918.5L1801.8 1916.4L1805.8 1914.2L1809.8 1912.1L1813.8 1910L1815.2 1909.3L1817.8 1907.9L1821.8 1905.8L1825.8 1903.7L1829.8 1901.6L1833.8 1899.5L1837.8 1897.6L1841.8 1895.7L1845.8 1893.9L1847.3 1893.3L1849.8 1892.3L1853.8 1890.5L1857.8 1888.8L1861.8 1887.2L1865.8 1885.7L1869.8 1884.4L1873.8 1883.5L1877.2 1882.9L1877.8 1882.8L1881.8 1882.4L1885.8 1881.9L1889.8 1881.6L1893.8 1881.2L1897.8 1881L1901.8 1880.8L1905.8 1880.6L1909.3 1880.6" stroke="#000" stroke-width="3.6" fill="none" stroke-linejoin="round"/>
<rect x="1149" y="1865" width="789" height="416" fill="none" stroke="#000" stroke-width="2"/>
<path d="M1132 1959H1149M1132 2035H1149M1132 2112H1149M1132 2188H1149M1132 2267H1149M1179 2281V2298.8M1324 2281V2298.8M1615 2281V2298.8M1762 2281V2298.8M1909 2281V2298.8" stroke="#000" stroke-width="2" fill="none"/>
<path d="M1132 1879.5H1149M1470.5 2281V2298.8" stroke="#000" stroke-width="3" fill="none"/>
<text x="1178.7" y="2341.8" font-size="27" fill="#1a1a1a" text-anchor="middle">1.0</text>
<text x="0" y="0" font-size="27" fill="#1a1a1a" text-anchor="middle" transform="translate(1111.1 1879.5) scale(1.09 1) rotate(-90)">1.0</text>
<text x="1323.7" y="2341.8" font-size="27" fill="#1a1a1a" text-anchor="middle">0.8</text>
<text x="0" y="0" font-size="27" fill="#1a1a1a" text-anchor="middle" transform="translate(1111.1 1959) scale(1.09 1) rotate(-90)">0.8</text>
<text x="1470.2" y="2341.8" font-size="27" fill="#1a1a1a" text-anchor="middle">0.6</text>
<text x="0" y="0" font-size="27" fill="#1a1a1a" text-anchor="middle" transform="translate(1111.1 2035) scale(1.09 1) rotate(-90)">0.6</text>
<text x="1614.7" y="2341.8" font-size="27" fill="#1a1a1a" text-anchor="middle">0.4</text>
<text x="0" y="0" font-size="27" fill="#1a1a1a" text-anchor="middle" transform="translate(1111.1 2112) scale(1.09 1) rotate(-90)">0.4</text>
<text x="1761.7" y="2341.8" font-size="27" fill="#1a1a1a" text-anchor="middle">0.2</text>
<text x="0" y="0" font-size="27" fill="#1a1a1a" text-anchor="middle" transform="translate(1111.1 2188) scale(1.09 1) rotate(-90)">0.2</text>
<text x="1908.7" y="2341.8" font-size="27" fill="#1a1a1a" text-anchor="middle">0.0</text>
<text x="0" y="0" font-size="27" fill="#1a1a1a" text-anchor="middle" transform="translate(1111.1 2267) scale(1.09 1) rotate(-90)">0.0</text>
<text x="1543.2" y="2390.4" font-size="28.5" fill="#1a1a1a" text-anchor="middle" textLength="127" lengthAdjust="spacingAndGlyphs">Specificity</text>
<text x="0" y="0" font-size="27" fill="#1a1a1a" text-anchor="middle" transform="translate(1060 2074) scale(1.09 1) rotate(-90)">Sensitivity</text>
<text x="1625.3" y="2242" font-size="44.5" textLength="270.2" lengthAdjust="spacingAndGlyphs" xml:space="preserve">AUC:  0.5684</text>
</g>
</svg></body></html>
